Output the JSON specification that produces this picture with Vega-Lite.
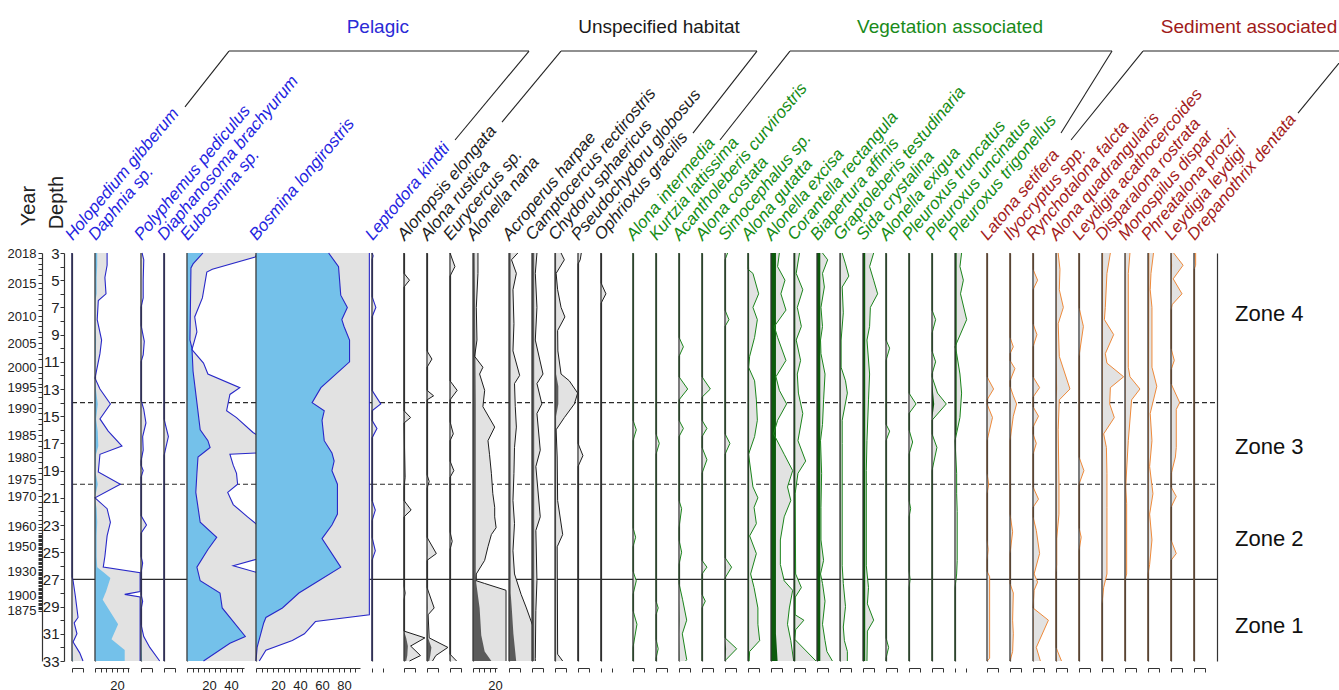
{
"$schema":"https://vega.github.io/schema/vega-lite/v6.json",
"background":"white",
"padding":{"left":7,"top":18,"right":0,"bottom":0},
"spacing":12,
"bounds":"flush",
"resolve":{"scale":{"x":"independent"}},
"config":{
 "view":{"stroke":null},
 "font":"Liberation Sans",
 "legend":{"disable":true},
 "mark":{"invalid":"filter"},
 "area":{"color":"#e2e2e2"},
 "line":{"color":"#1e1e1e","strokeWidth":1},
 "rule":{"color":"#2b2b2b","strokeWidth":1.1},
 "text":{"angle":-50,"align":"left","baseline":"alphabetic","fontStyle":"italic","fontSize":17,"dx":1,"color":"#1e1e1e"},
 "axis":{"grid":false,"domainColor":"#333","tickColor":"#333","labelColor":"#222","labelFont":"Liberation Sans"},
 "axisX":{"offset":7,"tickSize":4,"labelFontSize":13,"labelPadding":7,"domainWidth":1,"labelOverlap":false,"labelFlush":false,"labelBound":false},
 "axisY":{"labels":false,"ticks":false,"domainWidth":1.2}
},
"datasets":{
 "zones":[{"d":14,"k":"dash"},{"d":20,"k":"dash"},{"d":27,"k":"solid"}],
 "zonelab":[{"d":7.5,"z":"Zone 4"},{"d":17.3,"z":"Zone 3"},{"d":24,"z":"Zone 2"},{"d":30.45,"z":"Zone 1"}],
 "groups":[{"g":"P","name":"Pelagic"},{"g":"U","name":"Unspecified habitat"},{"g":"V","name":"Vegetation associated"},{"g":"S","name":"Sediment associated"}],
 "axtitles":[{"name":"Year"},{"name":"Depth"}],
 "taxa":[{"t":"Hol","name":"Holopedium gibberum"},{"t":"Dap","name":"Daphnia sp."},{"t":"Pol","name":"Polyphemus pediculus"},{"t":"Dia","name":"Diaphanosoma brachyurum"},{"t":"Eub","name":"Eubosmina sp."},{"t":"Bos","name":"Bosmina longirostris"},{"t":"Lep","name":"Leptodora kindti"},{"t":"Aen","name":"Alonopsis elongata"},{"t":"Aru","name":"Alona rustica"},{"t":"Eur","name":"Eurycercus sp."},{"t":"Ana","name":"Alonella nana"},{"t":"Aha","name":"Acroperus harpae"},{"t":"Cre","name":"Camptocercus rectirostris"},{"t":"Csp","name":"Chydoru sphaericus"},{"t":"Pgl","name":"Pseudochydoru globosus"},{"t":"Ogr","name":"Ophrioxus gracilis"},{"t":"Ain","name":"Alona intermedia"},{"t":"Kla","name":"Kurtzia lattissima"},{"t":"Acu","name":"Acantholeberis curvirostris"},{"t":"Aco","name":"Alona costata"},{"t":"Sim","name":"Simocephalus sp."},{"t":"Agu","name":"Alona gutatta"},{"t":"Aex","name":"Alonella excisa"},{"t":"Cor","name":"Corantella rectangula"},{"t":"Baf","name":"Biapertura affinis"},{"t":"Gte","name":"Graptoleberis testudinaria"},{"t":"Scr","name":"Sida crystalina"},{"t":"Aeg","name":"Alonella exigua"},{"t":"Ptr","name":"Pleuroxus truncatus"},{"t":"Pun","name":"Pleuroxus uncinatus"},{"t":"Ptg","name":"Pleuroxus trigonellus"},{"t":"Lse","name":"Latona setifera"},{"t":"Ily","name":"Ilyocryptus spp."},{"t":"Rfa","name":"Rynchotalona falcta"},{"t":"Aqu","name":"Alona quadrangularis"},{"t":"Lac","name":"Leydigia acathocercoides"},{"t":"Dro","name":"Disparalona rostrata"},{"t":"Mdi","name":"Monospilus dispar"},{"t":"Ppr","name":"Phreatalona protzi"},{"t":"Lle","name":"Leydigia leydigi"},{"t":"Dde","name":"Drepanothrix dentata"}],
 "Hol":[{"d":3,"v":0,"e":0},{"d":26.8,"v":0,"e":0},{"d":27.1,"v":0,"e":1},{"d":28.2,"v":0,"e":3},{"d":29.8,"v":0.3,"e":5.5},{"d":30.2,"v":0,"e":2},{"d":31,"v":0.3,"e":4.5},{"d":31.6,"v":0,"e":1},{"d":32.4,"v":0.5,"e":7},{"d":33,"v":1,"e":10}],
 "Dap":[{"d":3,"v":2,"e":11},{"d":3.9,"v":2,"e":11},{"d":4.8,"v":1.5,"e":9},{"d":6,"v":1.5,"e":10},{"d":6.5,"v":0.5,"e":3},{"d":7.9,"v":0.3,"e":2},{"d":9.4,"v":1,"e":6},{"d":10.4,"v":0.8,"e":4.5},{"d":12.2,"v":0,"e":0},{"d":13,"v":0.8,"e":4.5},{"d":14.1,"v":2.5,"e":14},{"d":15.2,"v":1,"e":4.5},{"d":16.1,"v":2.5,"e":12},{"d":17.2,"v":3,"e":24.5},{"d":17.8,"v":1,"e":4.5},{"d":19.1,"v":0.5,"e":3},{"d":20,"v":2.5,"e":23},{"d":21,"v":0,"e":0},{"d":21.8,"v":1.5,"e":11},{"d":22.8,"v":2,"e":14},{"d":23.8,"v":1.5,"e":11},{"d":25.3,"v":1.5,"e":9},{"d":26.1,"v":2,"e":7.5},{"d":26.5,"v":8,"e":41},{"d":26.9,"v":14,"e":41},{"d":27.9,"v":10,"e":41},{"d":28.1,"v":9,"e":27},{"d":28.3,"v":8,"e":41},{"d":28.5,"v":7,"e":41},{"d":30.3,"v":21,"e":41},{"d":31.4,"v":15,"e":41},{"d":32.2,"v":27,"e":41},{"d":33,"v":27,"e":41}],
 "Pol":[{"d":3,"v":0,"e":1},{"d":3.5,"v":0,"e":2.5},{"d":5,"v":0,"e":2},{"d":6.3,"v":0,"e":2},{"d":7,"v":0,"e":0},{"d":8.3,"v":0,"e":0},{"d":9.5,"v":0,"e":3},{"d":10.5,"v":0,"e":2},{"d":11,"v":0,"e":0},{"d":13.8,"v":0,"e":0},{"d":14.5,"v":0,"e":2.5},{"d":15.5,"v":0,"e":4.5},{"d":16.5,"v":0,"e":1.5},{"d":17.5,"v":0,"e":2},{"d":18.3,"v":0,"e":0},{"d":18.6,"v":0,"e":0},{"d":19,"v":0,"e":2},{"d":19.5,"v":0,"e":0},{"d":22.3,"v":0,"e":0},{"d":23,"v":0.3,"e":5},{"d":23.6,"v":0,"e":0},{"d":25.3,"v":0,"e":0},{"d":25.8,"v":0,"e":1.5},{"d":26.5,"v":0,"e":0},{"d":28.1,"v":0,"e":0},{"d":28.6,"v":0,"e":1.5},{"d":29.2,"v":0,"e":0},{"d":30.3,"v":0,"e":0},{"d":31.2,"v":0.3,"e":2.5},{"d":32,"v":0.5,"e":8},{"d":33,"v":1,"e":17}],
 "Dia":[{"d":3,"v":0,"e":0},{"d":15.2,"v":0,"e":0},{"d":16.5,"v":0,"e":4},{"d":17.9,"v":0,"e":0},{"d":33,"v":0,"e":0}],
 "Eub":[{"d":3,"v":14.5,"e":64},{"d":3.3,"e":62},{"d":3.8,"v":5.5},{"d":4.1,"v":3.6},{"d":4.2,"e":23},{"d":4.4,"e":18},{"d":6.3,"e":14},{"d":7.7,"e":7},{"d":8.8,"e":9},{"d":9.4,"v":2.7},{"d":10,"v":4.5},{"d":10.1,"e":4.5},{"d":11.1,"e":15},{"d":11.7,"v":5.5},{"d":11.9,"e":19},{"d":12.9,"e":48},{"d":13.4,"e":39},{"d":14,"v":9},{"d":14.6,"e":36},{"d":15.1,"e":45},{"d":16,"v":12},{"d":16.2,"e":60},{"d":16.4,"e":64},{"d":16.8,"v":19},{"d":17.3,"v":21},{"d":17.7,"e":64},{"d":17.8,"e":39},{"d":18,"v":10},{"d":18.6,"e":42},{"d":19.2,"v":9,"e":45},{"d":20,"e":46},{"d":20.6,"v":8,"e":37},{"d":21.5,"e":42},{"d":22.4,"e":55},{"d":22.8,"v":12},{"d":23,"e":64},{"d":23.9,"v":27},{"d":24.8,"v":19},{"d":25.5,"e":64},{"d":26,"e":42},{"d":26.1,"v":9},{"d":26.5,"e":64},{"d":27.1,"v":12},{"d":28,"v":30},{"d":29.1,"v":32},{"d":31.2,"v":53},{"d":31.7,"v":39},{"d":33,"v":15,"e":64}],
 "Bos":[{"d":3,"v":66,"e":103},{"d":4,"v":75},{"d":6.1,"v":77},{"d":7,"v":83},{"d":7.9,"v":78},{"d":8.4,"v":80},{"d":9.4,"v":85},{"d":11,"v":85},{"d":12.9,"v":59},{"d":14,"v":51},{"d":14.6,"v":62},{"d":15.3,"v":60},{"d":16.8,"v":62},{"d":17.7,"v":69},{"d":18.3,"v":71},{"d":19,"v":69},{"d":20,"v":74},{"d":22.2,"v":74},{"d":23,"v":69},{"d":24,"v":60},{"d":26.1,"v":77},{"d":27.1,"v":57},{"d":28,"v":39},{"d":29.1,"v":24},{"d":29.6,"e":103},{"d":29.8,"v":9},{"d":30.1,"e":54},{"d":30.2,"v":7},{"d":31,"e":44},{"d":31.5,"e":33},{"d":32,"v":1},{"d":32.2,"e":9},{"d":33,"v":0,"e":3}],
 "Lep":[{"d":3,"v":0,"e":0},{"d":3.2,"v":0,"e":1},{"d":3.5,"v":0,"e":0},{"d":6.2,"v":0,"e":0},{"d":7,"v":0,"e":3.5},{"d":7.7,"v":0,"e":0},{"d":13.1,"v":0,"e":0},{"d":14.1,"v":0.5,"e":8},{"d":14.6,"v":0,"e":0},{"d":15.3,"v":0,"e":0},{"d":15.9,"v":0.3,"e":4.5},{"d":16.6,"v":0,"e":0},{"d":21.2,"v":0,"e":0},{"d":21.9,"v":0,"e":3},{"d":22.7,"v":0,"e":0},{"d":23.9,"v":0,"e":0},{"d":24.9,"v":0,"e":3},{"d":25.6,"v":0,"e":0},{"d":33,"v":0,"e":0}],
 "Aen":[{"d":3,"v":0,"e":0},{"d":4.5,"v":0,"e":0},{"d":5,"v":0.3,"e":5},{"d":5.5,"v":0,"e":0},{"d":14.6,"v":0,"e":0},{"d":15.1,"v":0.5,"e":6},{"d":15.5,"v":0,"e":0},{"d":19.5,"v":0.3,"e":1},{"d":20.2,"v":0,"e":0},{"d":21.2,"v":0,"e":0},{"d":21.9,"v":0.5,"e":6.5},{"d":22.4,"v":0,"e":0},{"d":27.5,"v":0,"e":0},{"d":28,"v":0,"e":1},{"d":28.5,"v":0,"e":0},{"d":30.8,"v":0,"e":0},{"d":31.3,"v":2,"e":19},{"d":31.9,"v":3.5,"e":6},{"d":32.6,"v":3,"e":15},{"d":33,"v":2,"e":5}],
 "Aru":[{"d":3,"v":0,"e":0},{"d":10.2,"v":0,"e":0},{"d":10.8,"v":0,"e":4.5},{"d":11.4,"v":0,"e":0},{"d":13.1,"v":0,"e":0},{"d":13.5,"v":0.3,"e":6},{"d":13.8,"v":0,"e":0},{"d":19.3,"v":0,"e":0},{"d":19.8,"v":0,"e":2},{"d":20.3,"v":0,"e":0},{"d":23.9,"v":0,"e":0},{"d":25.1,"v":0.5,"e":8.5},{"d":25.6,"v":0,"e":0},{"d":27.6,"v":0,"e":0},{"d":29.1,"v":0.5,"e":6.5},{"d":29.6,"v":0,"e":1},{"d":31.3,"v":1,"e":2},{"d":32,"v":4,"e":19},{"d":32.6,"v":3,"e":8},{"d":33,"v":2,"e":5}],
 "Eur":[{"d":3,"v":0,"e":0},{"d":4,"v":0,"e":4.5},{"d":4.7,"v":0,"e":0},{"d":12.4,"v":0,"e":0},{"d":13.1,"v":0.3,"e":6.5},{"d":13.8,"v":0,"e":0},{"d":15.4,"v":0,"e":0},{"d":16.3,"v":0,"e":3},{"d":16.8,"v":0,"e":0},{"d":18.3,"v":0,"e":0},{"d":19,"v":0,"e":3.5},{"d":19.5,"v":0,"e":0},{"d":23.5,"v":0,"e":0},{"d":24.2,"v":0,"e":2},{"d":24.8,"v":0,"e":0},{"d":32.5,"v":0,"e":0},{"d":33,"v":0.5,"e":6}],
 "Ana":[{"d":3,"v":1.5,"e":4.5},{"d":4.5,"e":4.5},{"d":7,"e":3},{"d":9.4,"e":3.6},{"d":10.6,"e":1.5},{"d":11.4,"e":9},{"d":11.9,"e":6},{"d":13.1,"e":10.6},{"d":14,"v":2.5},{"d":14.3,"e":9},{"d":15.8,"e":19.7},{"d":16.8,"e":13.6},{"d":17.8,"e":15},{"d":19.2,"e":16.7},{"d":20.7,"e":18},{"d":21.7,"e":19.7},{"d":22.4,"e":19.7},{"d":23.2,"e":21},{"d":23.7,"e":16.7},{"d":24.6,"e":13.6},{"d":25.6,"e":10.6},{"d":26.6,"v":2.5,"e":3},{"d":27.1,"e":3},{"d":27.3,"v":3,"e":10.6},{"d":27.8,"e":30},{"d":29.1,"v":6},{"d":31.1,"v":7.5},{"d":32.3,"v":10.6},{"d":33,"v":16.7,"e":30}],
 "Aha":[{"d":3,"v":1.5,"e":8},{"d":3.5,"e":2.3},{"d":4.5,"e":6.7},{"d":5.7,"e":3.6},{"d":8.2,"e":4.5},{"d":10.2,"e":3.6},{"d":12,"e":9.7},{"d":12.6,"e":5},{"d":14.3,"e":5.7},{"d":15.8,"e":6.7},{"d":17.3,"e":5},{"d":19.2,"e":4.5},{"d":21.2,"e":3.6},{"d":22.9,"e":5},{"d":24.9,"e":3.6},{"d":26.6,"e":5},{"d":28,"v":1.5},{"d":28.1,"e":11},{"d":29.1,"v":2.5,"e":15.8},{"d":30.5,"e":22},{"d":31,"v":4},{"d":33,"v":6.5,"e":23}],
 "Cre":[{"d":3,"v":2,"e":4.5},{"d":4.5,"e":3},{"d":7,"e":4.5},{"d":9.4,"e":3},{"d":11.9,"e":10},{"d":12.6,"e":4.5},{"d":14.1,"e":9},{"d":14.8,"e":4.5},{"d":17.5,"e":7.5},{"d":18.7,"e":3.5},{"d":22.4,"e":7.5},{"d":23.4,"e":3.5},{"d":27.1,"e":4.5},{"d":29.3,"e":3.5},{"d":32.8,"e":3},{"d":33,"v":2,"e":3}],
 "Csp":[{"d":3,"v":1,"e":5.5},{"d":3.5,"e":8.5},{"d":4.5,"e":1},{"d":5.7,"e":2.4},{"d":7,"e":5.5},{"d":7.7,"e":9},{"d":8.7,"e":2.4},{"d":10.2,"e":2.6},{"d":11.9,"v":1,"e":5.5},{"d":12.4,"e":13},{"d":12.8,"v":3},{"d":13.3,"e":20.6},{"d":14.1,"v":3,"e":17.6},{"d":15,"v":1},{"d":15.1,"e":8.5},{"d":16,"e":1},{"d":18,"e":2},{"d":21.2,"e":2.4},{"d":23.7,"e":7},{"d":24.6,"e":2},{"d":32.5,"e":2.4},{"d":33,"v":1,"e":7}],
 "Pgl":[{"d":3,"v":0.3,"e":3},{"d":3.5,"v":0,"e":2},{"d":3.8,"v":0,"e":0},{"d":17,"v":0,"e":0},{"d":17.9,"v":0,"e":4.5},{"d":18.7,"v":0,"e":0},{"d":33,"v":0,"e":0}],
 "Ogr":[{"d":3,"v":0,"e":0},{"d":5.2,"v":0,"e":0},{"d":6,"v":0,"e":4.5},{"d":6.7,"v":0,"e":0},{"d":33,"v":0,"e":0}],
 "Ain":[{"d":3,"v":0,"e":0},{"d":15.3,"v":0,"e":0},{"d":16,"v":0,"e":3},{"d":16.8,"v":0,"e":0},{"d":23.2,"v":0,"e":0},{"d":23.9,"v":0,"e":2.4},{"d":24.6,"v":0,"e":0},{"d":26.4,"v":0,"e":0},{"d":27.1,"v":0,"e":3},{"d":28.1,"v":0,"e":0},{"d":29.3,"v":0,"e":0},{"d":30.3,"v":0,"e":3.6},{"d":32,"v":0,"e":0},{"d":33,"v":0,"e":0}],
 "Kla":[{"d":3,"v":0,"e":0},{"d":16.3,"v":0,"e":0},{"d":17,"v":0,"e":3},{"d":17.8,"v":0,"e":0},{"d":28.6,"v":0,"e":0},{"d":29.1,"v":0,"e":2},{"d":29.6,"v":0,"e":0},{"d":31.4,"v":0,"e":0},{"d":32.1,"v":0,"e":2},{"d":32.8,"v":0,"e":0},{"d":33,"v":0,"e":0}],
 "Acu":[{"d":3,"v":0,"e":0},{"d":9.2,"v":0,"e":0},{"d":9.9,"v":0,"e":4},{"d":10.6,"v":0,"e":0},{"d":12.1,"v":0,"e":0},{"d":13,"v":0,"e":7.9},{"d":13.8,"v":0,"e":0},{"d":15.3,"v":0,"e":0},{"d":15.9,"v":0,"e":4},{"d":16.5,"v":0,"e":0},{"d":21.2,"v":0,"e":0},{"d":21.8,"v":0,"e":2.4},{"d":23.2,"v":0,"e":0},{"d":24.1,"v":0,"e":0},{"d":25,"v":0,"e":2.4},{"d":25.9,"v":0,"e":0},{"d":27.3,"v":0,"e":0},{"d":28.5,"v":0,"e":3.3},{"d":30,"v":0.3,"e":7},{"d":31,"v":0,"e":3},{"d":32.9,"v":0.3,"e":7},{"d":33,"v":0,"e":6}],
 "Aco":[{"d":3,"v":0,"e":0},{"d":12.1,"v":0,"e":0},{"d":13,"v":0.3,"e":7.6},{"d":13.6,"v":0,"e":0},{"d":15.3,"v":0,"e":0},{"d":15.9,"v":0,"e":4.5},{"d":16.5,"v":0,"e":0},{"d":17.3,"v":0,"e":0},{"d":18.2,"v":0,"e":4.5},{"d":19.2,"v":0,"e":0},{"d":25.6,"v":0,"e":0},{"d":26.1,"v":0,"e":4.5},{"d":26.6,"v":0,"e":0},{"d":28.1,"v":0,"e":0},{"d":28.6,"v":0,"e":3},{"d":29.1,"v":0,"e":0},{"d":33,"v":0,"e":0}],
 "Sim":[{"d":3,"v":0.3,"e":2.4},{"d":3.5,"v":0,"e":0},{"d":7.2,"v":0,"e":0},{"d":7.9,"v":0,"e":3.6},{"d":8.4,"v":0,"e":0},{"d":16.3,"v":0,"e":0},{"d":17,"v":0,"e":4.5},{"d":17.8,"v":0,"e":0},{"d":25.4,"v":0,"e":0},{"d":26.1,"v":0.5,"e":6},{"d":26.9,"v":0,"e":0},{"d":31.3,"v":0,"e":0},{"d":32.1,"v":1,"e":10.6},{"d":32.9,"v":0.5,"e":1},{"d":33,"v":0,"e":0}],
 "Agu":[{"d":3,"v":0.5,"e":0},{"d":4.2,"v":1,"e":0},{"d":4.5,"v":1,"e":4.5},{"d":6,"v":1,"e":9.7},{"d":7,"v":1,"e":4.5},{"d":7.9,"v":1,"e":8.5},{"d":9.2,"v":1,"e":6},{"d":10.6,"v":1,"e":1.5},{"d":11.4,"v":1,"e":0.5},{"d":12.4,"v":1,"e":6},{"d":13.8,"v":1,"e":7.6},{"d":15.3,"v":1,"e":8.5},{"d":16.5,"v":1,"e":6},{"d":17.8,"v":1,"e":0.5},{"d":20.2,"v":1,"e":4.5},{"d":21,"v":1,"e":9},{"d":21.7,"v":1,"e":5.5},{"d":22.9,"v":1,"e":7.6},{"d":23.8,"v":1,"e":1.5},{"d":25.1,"v":1,"e":7.6},{"d":26.6,"v":1,"e":2.4},{"d":27.6,"v":1,"e":5.5},{"d":29.1,"v":1,"e":9},{"d":30.3,"v":1,"e":9},{"d":31.5,"v":1,"e":10.6},{"d":32.3,"v":1,"e":1.5},{"d":33,"v":1,"e":1}],
 "Aex":[{"d":3,"v":4.5,"e":7.6},{"d":4,"e":6},{"d":5,"e":12.7},{"d":6,"e":9},{"d":7.2,"e":13.6},{"d":8.4,"e":3},{"d":9.2,"e":6},{"d":10.9,"e":13.6},{"d":12.1,"e":4.5},{"d":13.1,"e":7.6},{"d":14.1,"e":14.2},{"d":15.3,"e":6},{"d":16.3,"e":2.4},{"d":17.8,"e":12},{"d":19,"e":19.7},{"d":20.2,"e":15},{"d":21.2,"e":18},{"d":22.4,"e":12},{"d":24.1,"e":8.5},{"d":25.9,"e":8.5},{"d":27.1,"e":12},{"d":27.8,"e":19.7},{"d":29.1,"e":16.7},{"d":30.3,"e":15},{"d":31,"v":4.5},{"d":31.5,"e":18},{"d":33,"v":6,"e":20.6}],
 "Cor":[{"d":3,"v":1.2,"e":5},{"d":4.5,"e":2},{"d":5.7,"e":8},{"d":7,"e":3},{"d":8.4,"e":6.7},{"d":9.4,"e":2},{"d":10.9,"e":6},{"d":11.9,"e":3},{"d":13.3,"e":4},{"d":14.8,"e":8},{"d":16.8,"e":3.6},{"d":18.3,"e":10.6},{"d":19.2,"e":3.6},{"d":20.7,"e":1},{"d":26.6,"e":1.5},{"d":27.6,"e":6.7},{"d":28.3,"e":1.2},{"d":29.6,"e":1},{"d":30,"e":9},{"d":30.7,"e":1.5},{"d":31.4,"e":0.6},{"d":33,"v":1.2,"e":20}],
 "Baf":[{"d":3,"v":3,"e":5},{"d":3.5,"e":9.7},{"d":4.5,"e":5},{"d":5.5,"e":6.7},{"d":7,"e":3.6},{"d":8.4,"e":5},{"d":9.4,"e":3.2},{"d":10.4,"e":3.6},{"d":11.9,"e":7.3},{"d":13.8,"e":6},{"d":15.6,"e":5},{"d":16.8,"e":3.2},{"d":19.2,"e":4.2},{"d":21.7,"e":3.6},{"d":24.1,"e":3.6},{"d":25.6,"e":6},{"d":26.6,"e":3.2},{"d":27.3,"e":5},{"d":28.6,"e":7.3},{"d":30.3,"e":5},{"d":31.5,"e":7.3},{"d":32.3,"e":9},{"d":33,"v":3,"e":14}],
 "Gte":[{"d":3,"v":0.5,"e":2},{"d":3.8,"e":5},{"d":4.7,"e":8},{"d":5.5,"e":2},{"d":7.4,"e":3},{"d":9.4,"e":1},{"d":11.4,"e":1},{"d":12.4,"e":5},{"d":13.3,"e":6.7},{"d":15.3,"e":2},{"d":17,"e":2},{"d":26,"e":2},{"d":27.3,"e":3},{"d":29,"e":5},{"d":30.5,"e":3},{"d":31.5,"e":4},{"d":32.3,"e":6.7},{"d":33,"v":0.5,"e":6.7}],
 "Scr":[{"d":3,"v":2,"e":9.7},{"d":4,"e":6},{"d":5,"e":9.7},{"d":6,"e":13.3},{"d":7,"e":6.7},{"d":8.4,"e":6},{"d":9.4,"e":3.6},{"d":11.9,"e":6},{"d":13.8,"e":5},{"d":16.8,"e":3.6},{"d":19,"e":3},{"d":26,"e":3},{"d":27.6,"e":5},{"d":28.8,"e":4},{"d":30,"e":9.7},{"d":30.8,"e":4},{"d":33,"v":2,"e":3.6}],
 "Aeg":[{"d":3,"v":0,"e":0},{"d":9.4,"v":0,"e":0},{"d":10,"v":0,"e":3.3},{"d":10.9,"v":0,"e":0},{"d":15.6,"v":0,"e":0},{"d":16.1,"v":0,"e":3.3},{"d":16.8,"v":0,"e":0},{"d":31.3,"v":0,"e":0},{"d":32,"v":0,"e":2.4},{"d":32.8,"v":0,"e":0},{"d":33,"v":0,"e":0}],
 "Ptr":[{"d":3,"v":0,"e":0},{"d":13.3,"v":0,"e":0},{"d":14.1,"v":0,"e":6.4},{"d":14.8,"v":0,"e":0},{"d":16,"v":0,"e":0},{"d":16.9,"v":0,"e":3.3},{"d":17.8,"v":0,"e":0},{"d":21.2,"v":0,"e":0},{"d":21.8,"v":0,"e":1.5},{"d":22.4,"v":0,"e":0},{"d":26.4,"v":0,"e":0},{"d":27,"v":0,"e":1},{"d":27.6,"v":0,"e":0},{"d":33,"v":0,"e":0}],
 "Pun":[{"d":3,"v":0,"e":0},{"d":7.2,"v":0,"e":0},{"d":7.9,"v":0,"e":3.3},{"d":8.9,"v":0,"e":0},{"d":10.2,"v":0,"e":0},{"d":11,"v":0,"e":3.3},{"d":11.9,"v":0,"e":0},{"d":12.1,"v":0,"e":0},{"d":13.3,"v":1,"e":5},{"d":14.1,"v":2,"e":13},{"d":15.3,"v":0,"e":0},{"d":16.3,"v":0,"e":0},{"d":17.3,"v":0,"e":4.5},{"d":19,"v":0,"e":0},{"d":33,"v":0,"e":0}],
 "Ptg":[{"d":3,"v":1.5,"e":6},{"d":4,"e":4.5},{"d":5,"e":7.6},{"d":6,"e":5},{"d":7.9,"e":10.6},{"d":9.9,"e":0},{"d":10.4,"e":1.5},{"d":11.9,"e":4.5},{"d":13.3,"e":6},{"d":15.1,"e":4.5},{"d":16,"v":1.5},{"d":16.8,"v":0,"e":0},{"d":19.2,"e":1.5},{"d":20.7,"e":1.5},{"d":22,"e":2},{"d":25.6,"e":2},{"d":26.6,"e":1.5},{"d":27.6,"e":0},{"d":33,"v":0,"e":0}],
 "Lse":[{"d":3,"v":0,"e":0},{"d":12.1,"v":0,"e":0},{"d":13,"v":0.3,"e":6},{"d":13.8,"v":0,"e":0},{"d":14.1,"v":0,"e":0},{"d":15.1,"v":0.3,"e":5},{"d":16.8,"v":0,"e":0},{"d":19.2,"v":0,"e":0},{"d":20,"v":0,"e":1.5},{"d":20.7,"v":0,"e":0},{"d":24.1,"v":0,"e":0},{"d":24.8,"v":0,"e":1},{"d":25.6,"v":0,"e":0},{"d":26.4,"v":0,"e":0},{"d":26.8,"v":0,"e":2.4},{"d":32.8,"v":0,"e":2.4},{"d":33,"v":0,"e":0}],
 "Ily":[{"d":3,"v":0,"e":0},{"d":9.2,"v":0,"e":0},{"d":9.9,"v":0,"e":3},{"d":10.4,"v":0,"e":0},{"d":10.9,"v":0,"e":0},{"d":11.5,"v":0,"e":4.5},{"d":12.4,"v":0,"e":0},{"d":12.8,"v":0,"e":0},{"d":13.5,"v":0,"e":3},{"d":14.1,"v":0.5,"e":6},{"d":15,"v":0,"e":3},{"d":16.8,"v":0,"e":0},{"d":22.2,"v":0,"e":0},{"d":23.5,"v":0,"e":2.4},{"d":25.1,"v":0,"e":0},{"d":27.3,"v":0,"e":0},{"d":28,"v":0,"e":3},{"d":30,"v":0,"e":2.4},{"d":31,"v":0,"e":3},{"d":32.3,"v":0,"e":2.4},{"d":33,"v":0,"e":0}],
 "Rfa":[{"d":3,"v":0,"e":0},{"d":4.2,"v":0,"e":0},{"d":5,"v":0,"e":4.2},{"d":5.7,"v":0,"e":0},{"d":8.2,"v":0,"e":0},{"d":9,"v":0,"e":3.6},{"d":9.9,"v":0,"e":0},{"d":12.1,"v":0,"e":0},{"d":12.9,"v":0,"e":6},{"d":13.6,"v":0,"e":0},{"d":14.3,"v":0,"e":0},{"d":15,"v":0,"e":5},{"d":15.8,"v":0,"e":0},{"d":16.3,"v":0,"e":0},{"d":17,"v":0,"e":3},{"d":17.8,"v":0,"e":0},{"d":20.2,"v":0,"e":0},{"d":21.1,"v":0,"e":5},{"d":21.7,"v":0,"e":0},{"d":22.4,"v":0,"e":0},{"d":23.4,"v":0,"e":3},{"d":25.1,"v":0,"e":6},{"d":26.6,"v":0,"e":1},{"d":27.2,"v":0,"e":4.2},{"d":27.8,"v":0,"e":1},{"d":29.1,"v":0,"e":0},{"d":30,"v":0.5,"e":14},{"d":32,"v":0.3,"e":3},{"d":33,"v":0.5,"e":6.7}],
 "Aqu":[{"d":3,"v":0.5,"e":2},{"d":4.2,"v":0.5,"e":3.6},{"d":5.7,"v":0.5,"e":3},{"d":7,"v":0.5,"e":6.7},{"d":8.2,"v":0.5,"e":2},{"d":10.6,"v":0.5,"e":3},{"d":13,"v":1,"e":12.7},{"d":13.8,"v":0.5,"e":3},{"d":16,"v":0.5,"e":2},{"d":20,"v":0.5,"e":2.7},{"d":22.2,"v":0.5,"e":2.7},{"d":24,"v":0.5,"e":0.6},{"d":25.9,"v":0,"e":0.6},{"d":26.5,"v":0,"e":0},{"d":32,"v":0,"e":0},{"d":33,"v":1,"e":5}],
 "Lac":[{"d":3,"v":0,"e":0},{"d":7,"v":0,"e":0},{"d":8.4,"v":0,"e":4},{"d":10.6,"v":0,"e":0},{"d":18,"v":0,"e":0},{"d":19,"v":0,"e":4.5},{"d":20,"v":0,"e":0},{"d":23.2,"v":0,"e":0},{"d":23.9,"v":0,"e":2},{"d":24.9,"v":0,"e":0},{"d":33,"v":0,"e":0}],
 "Dro":[{"d":3,"v":1,"e":7.6},{"d":4.5,"e":4.5},{"d":7,"e":3},{"d":7.9,"e":2.2},{"d":9,"e":10.6},{"d":10.4,"e":3},{"d":11.1,"e":4.5},{"d":12.1,"e":19.7},{"d":12.9,"e":7.6},{"d":14.1,"e":7},{"d":15.1,"e":11.2},{"d":16.3,"e":1.5},{"d":17.3,"e":4},{"d":19.2,"e":4.5},{"d":21.7,"e":4.5},{"d":24.1,"e":4.5},{"d":26.6,"e":4.5},{"d":27.6,"e":1.5},{"d":28.8,"v":0,"e":0},{"d":33,"v":0,"e":0}],
 "Mdi":[{"d":3,"v":0.5,"e":4.5},{"d":4.5,"e":3},{"d":11.4,"e":3},{"d":12.1,"e":4.5},{"d":13,"e":13.6},{"d":13.8,"e":6},{"d":16.8,"e":3},{"d":20.2,"e":0.6},{"d":21.4,"e":1.5},{"d":26.6,"v":0.3,"e":1.5},{"d":27,"v":0,"e":0},{"d":33,"v":0,"e":0}],
 "Ppr":[{"d":3,"v":1.2,"e":5},{"d":4.5,"e":2.7},{"d":5.7,"e":2},{"d":7,"e":3.6},{"d":11.4,"e":3.6},{"d":12.8,"e":8},{"d":14.8,"e":2},{"d":16.8,"e":3.6},{"d":18.7,"e":1.5},{"d":20.7,"e":4.5},{"d":22.2,"e":1.5},{"d":24.1,"e":3.6},{"d":25.9,"e":1.5},{"d":26.6,"v":0.5,"e":0},{"d":27,"v":0},{"d":33,"v":0,"e":0}],
 "Lle":[{"d":3,"v":0.5,"e":2.4},{"d":3.9,"v":1,"e":11},{"d":4.9,"v":0.5,"e":2},{"d":6,"v":0.5,"e":10},{"d":6.8,"v":0,"e":1},{"d":7.2,"v":0,"e":0},{"d":10,"v":0,"e":0},{"d":10.9,"v":0,"e":3},{"d":11.6,"v":0,"e":0},{"d":12.6,"v":0,"e":0},{"d":14,"v":0.5,"e":7.9},{"d":14.5,"v":0.3,"e":4.8},{"d":17.3,"v":0.3,"e":4.8},{"d":18,"v":0,"e":4},{"d":19.2,"v":0,"e":0.3},{"d":20.2,"v":0,"e":0},{"d":20.9,"v":0,"e":4.8},{"d":21.7,"v":0,"e":0},{"d":24.1,"v":0,"e":0},{"d":25.1,"v":0,"e":4.8},{"d":25.6,"v":0,"e":0},{"d":33,"v":0,"e":0}],
 "Dde":[{"d":3,"v":0.5,"e":1.5},{"d":3.9,"v":0,"e":1.5},{"d":4.2,"v":0,"e":0},{"d":33,"v":0,"e":0}]
},
"hconcat":[
 {"width":1,"height":408,"data":{"name":"zones"},"mark":{"type":"point","opacity":0},"encoding":{"x":{"datum":0,"scale":{"domain":[0,1]},"axis":null},"y":{"field":"d","type":"quantitative","title":null,"scale":{"domain":[3,33],"reverse":true,"nice":false,"zero":false},"axis":{"orient":"left","offset":4,"labels":true,"ticks":true,"domain":true,"tickSize":4,"labelFontSize":13,"labelPadding":2,"labelOverlap":false,"values":[3,5.21,7.64,9.63,11.4,12.87,14.42,16.41,18.03,19.65,20.9,23.12,24.59,26.43,28.2,29.31,3.4,3.8,4.2,4.6,5.6,6,6.4,6.8,7.2,8,8.4,8.8,9.2,10,10.4,10.8,11.8,12.2,12.6,13.2,13.6,14,14.8,15.2,15.6,16,16.8,17.2,17.6,18.4,18.8,19.2,20,20.4,21.3,21.7,22,22.3,22.6,22.9,23.4,23.6,23.7,23.8,23.9,24,24.1,24.2,24.3,24.4,24.5,24.7,24.8,24.9,25,25.1,25.2,25.3,25.4,25.5,25.6,25.7,25.8,25.9,26,26.1,26.2,26.3,26.5,26.6,26.7,26.8,26.9,27,27.1,27.2,27.3,27.4,27.5,27.6,27.7,27.8,27.9,28,28.1,28.3,28.4,28.5,28.6,28.7,28.8,28.9,29,29.1,29.2],"labelExpr":"indexof([3,5.21,7.64,9.63,11.4,12.87,14.42,16.41,18.03,19.65,20.9,23.12,24.59,26.43,28.2,29.31],datum.value) >= 0 ? ['2018','2015','2010','2005','2000','1995','1990','1985','1980','1975','1970','1960','1950','1930','1900','1875'][indexof([3,5.21,7.64,9.63,11.4,12.87,14.42,16.41,18.03,19.65,20.9,23.12,24.59,26.43,28.2,29.31],datum.value)] : ''"}}}},
 {"width":1,"height":408,"data":{"name":"zones"},"mark":{"type":"point","opacity":0},"encoding":{"x":{"datum":0,"scale":{"domain":[0,1]},"axis":null},"y":{"field":"d","type":"quantitative","title":null,"scale":{"domain":[3,33],"reverse":true,"nice":false,"zero":false},"axis":{"orient":"left","offset":-5,"labels":true,"ticks":true,"domain":true,"values":[3,4,5,6,7,8,9,10,11,12,13,14,15,16,17,18,19,20,21,22,23,24,25,26,27,28,29,30,31,32,33],"labelExpr":"datum.value % 2 == 1 ? datum.label : ''","tickSize":4,"labelFontSize":15,"labelPadding":1,"labelOverlap":false}}}},
 {"width":11,"height":408,"data":{"name":"Hol"},"layer":[
   {"data":{"name":"zones"},"mark":{"type":"rule"},"encoding":{"y":{"field":"d","type":"quantitative","title":null,"scale":{"domain":[3,33],"reverse":true,"nice":false,"zero":false}},"x":{"datum":0},"x2":{"datum":21},"strokeDash":{"field":"k","type":"nominal","scale":{"domain":["dash","solid"],"range":[[5,3],[1,0]]}}}},
   {"mark":{"type":"area","orient":"horizontal"},"encoding":{"y":{"field":"d","type":"quantitative","title":null},"x":{"field":"e","type":"quantitative","title":null,"scale":{"domain":[0,10],"nice":false,"zero":false},"axis":{"values":[0,5,10],"labels":false}}}},
   {"mark":{"type":"area","orient":"horizontal","fill":"#74c1ea"},"encoding":{"y":{"field":"d","type":"quantitative","title":null},"x":{"field":"v","type":"quantitative","title":null}}},
   {"mark":{"type":"line","stroke":"#2828c8","strokeWidth":1.1},"encoding":{"y":{"field":"d","type":"quantitative","title":null},"x":{"field":"e","type":"quantitative","title":null},"order":{"field":"d","type":"quantitative"}}},
   {"data":{"name":"taxa"},"transform":[{"filter":"datum.t=='Hol'"}],"mark":{"type":"text","fill":"#2424e0"},"encoding":{"x":{"datum":0},"y":{"datum":2.2},"text":{"field":"name"}}},
   {"data":{"name":"axtitles"},"transform":[{"filter":"datum.name=='Year'"}],"mark":{"type":"text","fontSize":20,"angle":-90,"align":"center","baseline":"middle","fontStyle":"normal","dx":0,"fill":"#222"},"encoding":{"x":{"datum":-39.1},"y":{"datum":-0.45},"text":{"field":"name"}}},
   {"data":{"name":"axtitles"},"transform":[{"filter":"datum.name=='Depth'"}],"mark":{"type":"text","fontSize":20,"angle":-90,"align":"center","baseline":"middle","fontStyle":"normal","dx":0,"fill":"#222"},"encoding":{"x":{"datum":-13.6},"y":{"datum":-0.7},"text":{"field":"name"}}},
   {"data":{"name":"groups"},"transform":[{"filter":"datum.g=='P'"}],"mark":{"type":"text","fontSize":19,"angle":0,"align":"center","baseline":"middle","fontStyle":"normal","dx":0,"fill":"#2a2ad6"},"encoding":{"x":{"datum":278},"y":{"datum":-13.6},"text":{"field":"name"}}},
   {"data":{"name":"groups"},"transform":[{"filter":"datum.g=='P'"}],"mark":{"type":"rule","stroke":"#222"},"encoding":{"x":{"datum":102.7},"y":{"datum":-7.74},"x2":{"datum":142.7},"y2":{"datum":-11.85}}},
   {"data":{"name":"groups"},"transform":[{"filter":"datum.g=='P'"}],"mark":{"type":"rule","stroke":"#222"},"encoding":{"x":{"datum":142.7},"y":{"datum":-11.85},"x2":{"datum":415.5},"y2":{"datum":-11.85}}},
   {"data":{"name":"groups"},"transform":[{"filter":"datum.g=='P'"}],"mark":{"type":"rule","stroke":"#222"},"encoding":{"x":{"datum":415.5},"y":{"datum":-11.85},"x2":{"datum":348.2},"y2":{"datum":-5.31}}},
   {"data":{"name":"zones"},"transform":[{"filter":"datum.k=='solid'"}],"mark":{"type":"rule","stroke":"#333","strokeWidth":1.2},"encoding":{"x":{"datum":0},"y":{"datum":3},"y2":{"datum":33}}}
  ]},
 {"width":34,"height":408,"data":{"name":"Dap"},"layer":[
   {"data":{"name":"zones"},"mark":{"type":"rule"},"encoding":{"y":{"field":"d","type":"quantitative","title":null,"scale":{"domain":[3,33],"reverse":true,"nice":false,"zero":false}},"x":{"datum":0,"axis":{"values":[0,5,10,15,20,25,30],"labelOverlap":false,"labelFlush":false,"labelBound":false,"labelExpr":"datum.value > 0 && datum.value % 20 == 0 ? datum.label : ''"}},"x2":{"datum":41.8},"strokeDash":{"field":"k","type":"nominal","scale":{"domain":["dash","solid"],"range":[[5,3],[1,0]]}}}},
   {"mark":{"type":"area","orient":"horizontal"},"encoding":{"y":{"field":"d","type":"quantitative","title":null},"x":{"field":"e","type":"quantitative","title":null,"scale":{"domain":[0,30.9],"nice":false,"zero":false},"axis":{"values":[0,5,10,15,20,25,30],"labelOverlap":false,"labelFlush":false,"labelBound":false,"labelExpr":"datum.value > 0 && datum.value % 20 == 0 ? datum.label : ''"}}}},
   {"mark":{"type":"area","orient":"horizontal","fill":"#74c1ea"},"encoding":{"y":{"field":"d","type":"quantitative","title":null},"x":{"field":"v","type":"quantitative","title":null,"axis":{"values":[0,5,10,15,20,25,30],"labelOverlap":false,"labelFlush":false,"labelBound":false,"labelExpr":"datum.value > 0 && datum.value % 20 == 0 ? datum.label : ''"}}}},
   {"mark":{"type":"line","stroke":"#2828c8","strokeWidth":1.1},"encoding":{"y":{"field":"d","type":"quantitative","title":null},"x":{"field":"e","type":"quantitative","title":null,"axis":{"values":[0,5,10,15,20,25,30],"labelOverlap":false,"labelFlush":false,"labelBound":false,"labelExpr":"datum.value > 0 && datum.value % 20 == 0 ? datum.label : ''"}},"order":{"field":"d","type":"quantitative"}}},
   {"data":{"name":"taxa"},"transform":[{"filter":"datum.t=='Dap'"}],"mark":{"type":"text","fill":"#2424e0"},"encoding":{"x":{"datum":0,"axis":{"values":[0,5,10,15,20,25,30],"labelOverlap":false,"labelFlush":false,"labelBound":false,"labelExpr":"datum.value > 0 && datum.value % 20 == 0 ? datum.label : ''"}},"y":{"datum":2.2},"text":{"field":"name"}}},
   {"data":{"name":"zones"},"transform":[{"filter":"datum.k=='solid'"}],"mark":{"type":"rule","stroke":"#333","strokeWidth":1.2},"encoding":{"x":{"datum":0,"axis":{"values":[0,5,10,15,20,25,30],"labelOverlap":false,"labelFlush":false,"labelBound":false,"labelExpr":"datum.value > 0 && datum.value % 20 == 0 ? datum.label : ''"}},"y":{"datum":3},"y2":{"datum":33}}}]},
 {"width":11,"height":408,"data":{"name":"Pol"},"layer":[
   {"data":{"name":"zones"},"mark":{"type":"rule"},"encoding":{"y":{"field":"d","type":"quantitative","title":null,"scale":{"domain":[3,33],"reverse":true,"nice":false,"zero":false}},"x":{"datum":0},"x2":{"datum":21},"strokeDash":{"field":"k","type":"nominal","scale":{"domain":["dash","solid"],"range":[[5,3],[1,0]]}}}},
   {"mark":{"type":"area","orient":"horizontal"},"encoding":{"y":{"field":"d","type":"quantitative","title":null},"x":{"field":"e","type":"quantitative","title":null,"scale":{"domain":[0,10],"nice":false,"zero":false},"axis":{"values":[0,5,10],"labels":false}}}},
   {"mark":{"type":"area","orient":"horizontal","fill":"#74c1ea"},"encoding":{"y":{"field":"d","type":"quantitative","title":null},"x":{"field":"v","type":"quantitative","title":null}}},
   {"mark":{"type":"line","stroke":"#2828c8","strokeWidth":1.1},"encoding":{"y":{"field":"d","type":"quantitative","title":null},"x":{"field":"e","type":"quantitative","title":null},"order":{"field":"d","type":"quantitative"}}},
   {"data":{"name":"taxa"},"transform":[{"filter":"datum.t=='Pol'"}],"mark":{"type":"text","fill":"#2424e0"},"encoding":{"x":{"datum":0},"y":{"datum":2.2},"text":{"field":"name"}}},
   {"data":{"name":"zones"},"transform":[{"filter":"datum.k=='solid'"}],"mark":{"type":"rule","stroke":"#333","strokeWidth":1.2},"encoding":{"x":{"datum":0},"y":{"datum":3},"y2":{"datum":33}}}]},
 {"width":11,"height":408,"data":{"name":"Dia"},"layer":[
   {"data":{"name":"zones"},"mark":{"type":"rule"},"encoding":{"y":{"field":"d","type":"quantitative","title":null,"scale":{"domain":[3,33],"reverse":true,"nice":false,"zero":false}},"x":{"datum":0},"x2":{"datum":21},"strokeDash":{"field":"k","type":"nominal","scale":{"domain":["dash","solid"],"range":[[5,3],[1,0]]}}}},
   {"mark":{"type":"area","orient":"horizontal"},"encoding":{"y":{"field":"d","type":"quantitative","title":null},"x":{"field":"e","type":"quantitative","title":null,"scale":{"domain":[0,10],"nice":false,"zero":false},"axis":{"values":[0,5,10],"labels":false}}}},
   {"mark":{"type":"area","orient":"horizontal","fill":"#74c1ea"},"encoding":{"y":{"field":"d","type":"quantitative","title":null},"x":{"field":"v","type":"quantitative","title":null}}},
   {"mark":{"type":"line","stroke":"#2828c8","strokeWidth":1.1},"encoding":{"y":{"field":"d","type":"quantitative","title":null},"x":{"field":"e","type":"quantitative","title":null},"order":{"field":"d","type":"quantitative"}}},
   {"data":{"name":"taxa"},"transform":[{"filter":"datum.t=='Dia'"}],"mark":{"type":"text","fill":"#2424e0"},"encoding":{"x":{"datum":0},"y":{"datum":2.2},"text":{"field":"name"}}},
   {"data":{"name":"zones"},"transform":[{"filter":"datum.k=='solid'"}],"mark":{"type":"rule","stroke":"#333","strokeWidth":1.2},"encoding":{"x":{"datum":0},"y":{"datum":3},"y2":{"datum":33}}}]},
 {"width":57,"height":408,"data":{"name":"Eub"},"layer":[
   {"data":{"name":"zones"},"mark":{"type":"rule"},"encoding":{"y":{"field":"d","type":"quantitative","title":null,"scale":{"domain":[3,33],"reverse":true,"nice":false,"zero":false}},"x":{"datum":0,"axis":{"values":[0,5,10,15,20,25,30,35,40,45,50],"labelOverlap":false,"labelFlush":false,"labelBound":false,"labelExpr":"datum.value > 0 && datum.value % 20 == 0 ? datum.label : ''"}},"x2":{"datum":62.7},"strokeDash":{"field":"k","type":"nominal","scale":{"domain":["dash","solid"],"range":[[5,3],[1,0]]}}}},
   {"mark":{"type":"area","orient":"horizontal"},"encoding":{"y":{"field":"d","type":"quantitative","title":null},"x":{"field":"e","type":"quantitative","title":null,"scale":{"domain":[0,51.8],"nice":false,"zero":false},"axis":{"values":[0,5,10,15,20,25,30,35,40,45,50],"labelOverlap":false,"labelFlush":false,"labelBound":false,"labelExpr":"datum.value > 0 && datum.value % 20 == 0 ? datum.label : ''"}}}},
   {"mark":{"type":"area","orient":"horizontal","fill":"#74c1ea"},"encoding":{"y":{"field":"d","type":"quantitative","title":null},"x":{"field":"v","type":"quantitative","title":null,"axis":{"values":[0,5,10,15,20,25,30,35,40,45,50],"labelOverlap":false,"labelFlush":false,"labelBound":false,"labelExpr":"datum.value > 0 && datum.value % 20 == 0 ? datum.label : ''"}}}},
   {"mark":{"type":"line","stroke":"#2828c8","strokeWidth":1.1},"encoding":{"y":{"field":"d","type":"quantitative","title":null},"x":{"field":"e","type":"quantitative","title":null,"axis":{"values":[0,5,10,15,20,25,30,35,40,45,50],"labelOverlap":false,"labelFlush":false,"labelBound":false,"labelExpr":"datum.value > 0 && datum.value % 20 == 0 ? datum.label : ''"}},"order":{"field":"d","type":"quantitative"}}},
   {"mark":{"type":"line","stroke":"#2828c8","strokeWidth":1.1},"encoding":{"y":{"field":"d","type":"quantitative","title":null},"x":{"field":"v","type":"quantitative","title":null,"axis":{"values":[0,5,10,15,20,25,30,35,40,45,50],"labelOverlap":false,"labelFlush":false,"labelBound":false,"labelExpr":"datum.value > 0 && datum.value % 20 == 0 ? datum.label : ''"}},"order":{"field":"d","type":"quantitative"}}},
   {"data":{"name":"taxa"},"transform":[{"filter":"datum.t=='Eub'"}],"mark":{"type":"text","fill":"#2424e0"},"encoding":{"x":{"datum":0,"axis":{"values":[0,5,10,15,20,25,30,35,40,45,50],"labelOverlap":false,"labelFlush":false,"labelBound":false,"labelExpr":"datum.value > 0 && datum.value % 20 == 0 ? datum.label : ''"}},"y":{"datum":2.2},"text":{"field":"name"}}},
   {"data":{"name":"zones"},"transform":[{"filter":"datum.k=='solid'"}],"mark":{"type":"rule","stroke":"#333","strokeWidth":1.2},"encoding":{"x":{"datum":0,"axis":{"values":[0,5,10,15,20,25,30,35,40,45,50],"labelOverlap":false,"labelFlush":false,"labelBound":false,"labelExpr":"datum.value > 0 && datum.value % 20 == 0 ? datum.label : ''"}},"y":{"datum":3},"y2":{"datum":33}}}]},
 {"width":104,"height":408,"data":{"name":"Bos"},"layer":[
   {"data":{"name":"zones"},"mark":{"type":"rule"},"encoding":{"y":{"field":"d","type":"quantitative","title":null,"scale":{"domain":[3,33],"reverse":true,"nice":false,"zero":false}},"x":{"datum":0,"axis":{"values":[0,5,10,15,20,25,30,35,40,45,50,55,60,65,70,75,80,85,90],"labelOverlap":false,"labelFlush":false,"labelBound":false,"labelExpr":"datum.value > 0 && datum.value % 20 == 0 ? datum.label : ''"}},"x2":{"datum":105.5},"strokeDash":{"field":"k","type":"nominal","scale":{"domain":["dash","solid"],"range":[[5,3],[1,0]]}}}},
   {"mark":{"type":"area","orient":"horizontal"},"encoding":{"y":{"field":"d","type":"quantitative","title":null},"x":{"field":"e","type":"quantitative","title":null,"scale":{"domain":[0,94.5],"nice":false,"zero":false},"axis":{"values":[0,5,10,15,20,25,30,35,40,45,50,55,60,65,70,75,80,85,90],"labelOverlap":false,"labelFlush":false,"labelBound":false,"labelExpr":"datum.value > 0 && datum.value % 20 == 0 ? datum.label : ''"}}}},
   {"mark":{"type":"area","orient":"horizontal","fill":"#74c1ea"},"encoding":{"y":{"field":"d","type":"quantitative","title":null},"x":{"field":"v","type":"quantitative","title":null,"axis":{"values":[0,5,10,15,20,25,30,35,40,45,50,55,60,65,70,75,80,85,90],"labelOverlap":false,"labelFlush":false,"labelBound":false,"labelExpr":"datum.value > 0 && datum.value % 20 == 0 ? datum.label : ''"}}}},
   {"mark":{"type":"line","stroke":"#2828c8","strokeWidth":1.1},"encoding":{"y":{"field":"d","type":"quantitative","title":null},"x":{"field":"e","type":"quantitative","title":null,"axis":{"values":[0,5,10,15,20,25,30,35,40,45,50,55,60,65,70,75,80,85,90],"labelOverlap":false,"labelFlush":false,"labelBound":false,"labelExpr":"datum.value > 0 && datum.value % 20 == 0 ? datum.label : ''"}},"order":{"field":"d","type":"quantitative"}}},
   {"mark":{"type":"line","stroke":"#2828c8","strokeWidth":1.1},"encoding":{"y":{"field":"d","type":"quantitative","title":null},"x":{"field":"v","type":"quantitative","title":null,"axis":{"values":[0,5,10,15,20,25,30,35,40,45,50,55,60,65,70,75,80,85,90],"labelOverlap":false,"labelFlush":false,"labelBound":false,"labelExpr":"datum.value > 0 && datum.value % 20 == 0 ? datum.label : ''"}},"order":{"field":"d","type":"quantitative"}}},
   {"data":{"name":"taxa"},"transform":[{"filter":"datum.t=='Bos'"}],"mark":{"type":"text","fill":"#2424e0"},"encoding":{"x":{"datum":0,"axis":{"values":[0,5,10,15,20,25,30,35,40,45,50,55,60,65,70,75,80,85,90],"labelOverlap":false,"labelFlush":false,"labelBound":false,"labelExpr":"datum.value > 0 && datum.value % 20 == 0 ? datum.label : ''"}},"y":{"datum":2.2},"text":{"field":"name"}}},
   {"data":{"name":"zones"},"transform":[{"filter":"datum.k=='solid'"}],"mark":{"type":"rule","stroke":"#333","strokeWidth":1.2},"encoding":{"x":{"datum":0,"axis":{"values":[0,5,10,15,20,25,30,35,40,45,50,55,60,65,70,75,80,85,90],"labelOverlap":false,"labelFlush":false,"labelBound":false,"labelExpr":"datum.value > 0 && datum.value % 20 == 0 ? datum.label : ''"}},"y":{"datum":3},"y2":{"datum":33}}}]},
 {"width":20,"height":408,"data":{"name":"Lep"},"layer":[
   {"data":{"name":"zones"},"mark":{"type":"rule"},"encoding":{"y":{"field":"d","type":"quantitative","title":null,"scale":{"domain":[3,33],"reverse":true,"nice":false,"zero":false}},"x":{"datum":0},"x2":{"datum":29.2},"strokeDash":{"field":"k","type":"nominal","scale":{"domain":["dash","solid"],"range":[[5,3],[1,0]]}}}},
   {"mark":{"type":"area","orient":"horizontal"},"encoding":{"y":{"field":"d","type":"quantitative","title":null},"x":{"field":"e","type":"quantitative","title":null,"scale":{"domain":[0,18.18],"nice":false,"zero":false},"axis":{"values":[0,5,10],"labels":false,"domain":false}}}},
   {"mark":{"type":"area","orient":"horizontal","fill":"#74c1ea"},"encoding":{"y":{"field":"d","type":"quantitative","title":null},"x":{"field":"v","type":"quantitative","title":null}}},
   {"mark":{"type":"line","stroke":"#2828c8","strokeWidth":1.1},"encoding":{"y":{"field":"d","type":"quantitative","title":null},"x":{"field":"e","type":"quantitative","title":null},"order":{"field":"d","type":"quantitative"}}},
   {"data":{"name":"taxa"},"transform":[{"filter":"datum.t=='Lep'"}],"mark":{"type":"text","fill":"#2424e0"},"encoding":{"x":{"datum":0},"y":{"datum":2.2},"text":{"field":"name"}}},
   {"data":{"name":"zones"},"transform":[{"filter":"datum.k=='solid'"}],"mark":{"type":"rule","stroke":"#333","strokeWidth":1.2},"encoding":{"x":{"datum":0},"y":{"datum":3},"y2":{"datum":33}}}]},
 {"width":11,"height":408,"data":{"name":"Aen"},"layer":[
   {"data":{"name":"zones"},"mark":{"type":"rule"},"encoding":{"y":{"field":"d","type":"quantitative","title":null,"scale":{"domain":[3,33],"reverse":true,"nice":false,"zero":false}},"x":{"datum":0},"x2":{"datum":21},"strokeDash":{"field":"k","type":"nominal","scale":{"domain":["dash","solid"],"range":[[5,3],[1,0]]}}}},
   {"mark":{"type":"area","orient":"horizontal"},"encoding":{"y":{"field":"d","type":"quantitative","title":null},"x":{"field":"e","type":"quantitative","title":null,"scale":{"domain":[0,10],"nice":false,"zero":false},"axis":{"values":[0,5,10],"labels":false}}}},
   {"mark":{"type":"area","orient":"horizontal","fill":"#5b5b5b"},"encoding":{"y":{"field":"d","type":"quantitative","title":null},"x":{"field":"v","type":"quantitative","title":null}}},
   {"mark":{"type":"line"},"encoding":{"y":{"field":"d","type":"quantitative","title":null},"x":{"field":"e","type":"quantitative","title":null},"order":{"field":"d","type":"quantitative"}}},
   {"data":{"name":"taxa"},"transform":[{"filter":"datum.t=='Aen'"}],"mark":{"type":"text","fill":"#1e1e1e"},"encoding":{"x":{"datum":0},"y":{"datum":2.2},"text":{"field":"name"}}},
   {"data":{"name":"groups"},"transform":[{"filter":"datum.g=='U'"}],"mark":{"type":"text","fontSize":19,"angle":0,"align":"center","baseline":"middle","fontStyle":"normal","dx":0,"fill":"#1a1a1a"},"encoding":{"x":{"datum":231.8},"y":{"datum":-13.6},"text":{"field":"name"}}},
   {"data":{"name":"groups"},"transform":[{"filter":"datum.g=='U'"}],"mark":{"type":"rule","stroke":"#222"},"encoding":{"x":{"datum":89.1},"y":{"datum":-6.63},"x2":{"datum":142.7},"y2":{"datum":-11.85}}},
   {"data":{"name":"groups"},"transform":[{"filter":"datum.g=='U'"}],"mark":{"type":"rule","stroke":"#222"},"encoding":{"x":{"datum":142.7},"y":{"datum":-11.85},"x2":{"datum":320.9},"y2":{"datum":-11.85}}},
   {"data":{"name":"groups"},"transform":[{"filter":"datum.g=='U'"}],"mark":{"type":"rule","stroke":"#222"},"encoding":{"x":{"datum":320.9},"y":{"datum":-11.85},"x2":{"datum":262.7},"y2":{"datum":-5.82}}},
   {"data":{"name":"zones"},"transform":[{"filter":"datum.k=='solid'"}],"mark":{"type":"rule","stroke":"#333","strokeWidth":1.2},"encoding":{"x":{"datum":0},"y":{"datum":3},"y2":{"datum":33}}}]},
 {"width":11,"height":408,"data":{"name":"Aru"},"layer":[
   {"data":{"name":"zones"},"mark":{"type":"rule"},"encoding":{"y":{"field":"d","type":"quantitative","title":null,"scale":{"domain":[3,33],"reverse":true,"nice":false,"zero":false}},"x":{"datum":0},"x2":{"datum":21},"strokeDash":{"field":"k","type":"nominal","scale":{"domain":["dash","solid"],"range":[[5,3],[1,0]]}}}},
   {"mark":{"type":"area","orient":"horizontal"},"encoding":{"y":{"field":"d","type":"quantitative","title":null},"x":{"field":"e","type":"quantitative","title":null,"scale":{"domain":[0,10],"nice":false,"zero":false},"axis":{"values":[0,5,10],"labels":false}}}},
   {"mark":{"type":"area","orient":"horizontal","fill":"#5b5b5b"},"encoding":{"y":{"field":"d","type":"quantitative","title":null},"x":{"field":"v","type":"quantitative","title":null}}},
   {"mark":{"type":"line"},"encoding":{"y":{"field":"d","type":"quantitative","title":null},"x":{"field":"e","type":"quantitative","title":null},"order":{"field":"d","type":"quantitative"}}},
   {"data":{"name":"taxa"},"transform":[{"filter":"datum.t=='Aru'"}],"mark":{"type":"text","fill":"#1e1e1e"},"encoding":{"x":{"datum":0},"y":{"datum":2.2},"text":{"field":"name"}}},
   {"data":{"name":"zones"},"transform":[{"filter":"datum.k=='solid'"}],"mark":{"type":"rule","stroke":"#333","strokeWidth":1.2},"encoding":{"x":{"datum":0},"y":{"datum":3},"y2":{"datum":33}}}]},
 {"width":11,"height":408,"data":{"name":"Eur"},"layer":[
   {"data":{"name":"zones"},"mark":{"type":"rule"},"encoding":{"y":{"field":"d","type":"quantitative","title":null,"scale":{"domain":[3,33],"reverse":true,"nice":false,"zero":false}},"x":{"datum":0},"x2":{"datum":21},"strokeDash":{"field":"k","type":"nominal","scale":{"domain":["dash","solid"],"range":[[5,3],[1,0]]}}}},
   {"mark":{"type":"area","orient":"horizontal"},"encoding":{"y":{"field":"d","type":"quantitative","title":null},"x":{"field":"e","type":"quantitative","title":null,"scale":{"domain":[0,10],"nice":false,"zero":false},"axis":{"values":[0,5,10],"labels":false}}}},
   {"mark":{"type":"area","orient":"horizontal","fill":"#5b5b5b"},"encoding":{"y":{"field":"d","type":"quantitative","title":null},"x":{"field":"v","type":"quantitative","title":null}}},
   {"mark":{"type":"line"},"encoding":{"y":{"field":"d","type":"quantitative","title":null},"x":{"field":"e","type":"quantitative","title":null},"order":{"field":"d","type":"quantitative"}}},
   {"data":{"name":"taxa"},"transform":[{"filter":"datum.t=='Eur'"}],"mark":{"type":"text","fill":"#1e1e1e"},"encoding":{"x":{"datum":0},"y":{"datum":2.2},"text":{"field":"name"}}},
   {"data":{"name":"zones"},"transform":[{"filter":"datum.k=='solid'"}],"mark":{"type":"rule","stroke":"#333","strokeWidth":1.2},"encoding":{"x":{"datum":0},"y":{"datum":3},"y2":{"datum":33}}}]},
 {"width":24,"height":408,"data":{"name":"Ana"},"layer":[
   {"data":{"name":"zones"},"mark":{"type":"rule"},"encoding":{"y":{"field":"d","type":"quantitative","title":null,"scale":{"domain":[3,33],"reverse":true,"nice":false,"zero":false}},"x":{"datum":0,"axis":{"values":[0,5,10,15,20],"labelOverlap":false,"labelFlush":false,"labelBound":false,"labelExpr":"datum.value > 0 && datum.value % 20 == 0 ? datum.label : ''"}},"x2":{"datum":32.7},"strokeDash":{"field":"k","type":"nominal","scale":{"domain":["dash","solid"],"range":[[5,3],[1,0]]}}}},
   {"mark":{"type":"area","orient":"horizontal"},"encoding":{"y":{"field":"d","type":"quantitative","title":null},"x":{"field":"e","type":"quantitative","title":null,"scale":{"domain":[0,21.8],"nice":false,"zero":false},"axis":{"values":[0,5,10,15,20],"labelOverlap":false,"labelFlush":false,"labelBound":false,"labelExpr":"datum.value > 0 && datum.value % 20 == 0 ? datum.label : ''"}}}},
   {"mark":{"type":"area","orient":"horizontal","fill":"#5b5b5b"},"encoding":{"y":{"field":"d","type":"quantitative","title":null},"x":{"field":"v","type":"quantitative","title":null,"axis":{"values":[0,5,10,15,20],"labelOverlap":false,"labelFlush":false,"labelBound":false,"labelExpr":"datum.value > 0 && datum.value % 20 == 0 ? datum.label : ''"}}}},
   {"mark":{"type":"line"},"encoding":{"y":{"field":"d","type":"quantitative","title":null},"x":{"field":"e","type":"quantitative","title":null,"axis":{"values":[0,5,10,15,20],"labelOverlap":false,"labelFlush":false,"labelBound":false,"labelExpr":"datum.value > 0 && datum.value % 20 == 0 ? datum.label : ''"}},"order":{"field":"d","type":"quantitative"}}},
   {"data":{"name":"taxa"},"transform":[{"filter":"datum.t=='Ana'"}],"mark":{"type":"text","fill":"#1e1e1e"},"encoding":{"x":{"datum":0,"axis":{"values":[0,5,10,15,20],"labelOverlap":false,"labelFlush":false,"labelBound":false,"labelExpr":"datum.value > 0 && datum.value % 20 == 0 ? datum.label : ''"}},"y":{"datum":2.2},"text":{"field":"name"}}},
   {"data":{"name":"zones"},"transform":[{"filter":"datum.k=='solid'"}],"mark":{"type":"rule","stroke":"#333","strokeWidth":1.2},"encoding":{"x":{"datum":0,"axis":{"values":[0,5,10,15,20],"labelOverlap":false,"labelFlush":false,"labelBound":false,"labelExpr":"datum.value > 0 && datum.value % 20 == 0 ? datum.label : ''"}},"y":{"datum":3},"y2":{"datum":33}}}]},
 {"width":11,"height":408,"data":{"name":"Aha"},"layer":[
   {"data":{"name":"zones"},"mark":{"type":"rule"},"encoding":{"y":{"field":"d","type":"quantitative","title":null,"scale":{"domain":[3,33],"reverse":true,"nice":false,"zero":false}},"x":{"datum":0},"x2":{"datum":21},"strokeDash":{"field":"k","type":"nominal","scale":{"domain":["dash","solid"],"range":[[5,3],[1,0]]}}}},
   {"mark":{"type":"area","orient":"horizontal"},"encoding":{"y":{"field":"d","type":"quantitative","title":null},"x":{"field":"e","type":"quantitative","title":null,"scale":{"domain":[0,10],"nice":false,"zero":false},"axis":{"values":[0,5,10],"labels":false}}}},
   {"mark":{"type":"area","orient":"horizontal","fill":"#5b5b5b"},"encoding":{"y":{"field":"d","type":"quantitative","title":null},"x":{"field":"v","type":"quantitative","title":null}}},
   {"mark":{"type":"line"},"encoding":{"y":{"field":"d","type":"quantitative","title":null},"x":{"field":"e","type":"quantitative","title":null},"order":{"field":"d","type":"quantitative"}}},
   {"data":{"name":"taxa"},"transform":[{"filter":"datum.t=='Aha'"}],"mark":{"type":"text","fill":"#1e1e1e"},"encoding":{"x":{"datum":0},"y":{"datum":2.2},"text":{"field":"name"}}},
   {"data":{"name":"zones"},"transform":[{"filter":"datum.k=='solid'"}],"mark":{"type":"rule","stroke":"#333","strokeWidth":1.2},"encoding":{"x":{"datum":0},"y":{"datum":3},"y2":{"datum":33}}}]},
 {"width":11,"height":408,"data":{"name":"Cre"},"layer":[
   {"data":{"name":"zones"},"mark":{"type":"rule"},"encoding":{"y":{"field":"d","type":"quantitative","title":null,"scale":{"domain":[3,33],"reverse":true,"nice":false,"zero":false}},"x":{"datum":0},"x2":{"datum":21},"strokeDash":{"field":"k","type":"nominal","scale":{"domain":["dash","solid"],"range":[[5,3],[1,0]]}}}},
   {"mark":{"type":"area","orient":"horizontal"},"encoding":{"y":{"field":"d","type":"quantitative","title":null},"x":{"field":"e","type":"quantitative","title":null,"scale":{"domain":[0,10],"nice":false,"zero":false},"axis":{"values":[0,5,10],"labels":false}}}},
   {"mark":{"type":"area","orient":"horizontal","fill":"#5b5b5b"},"encoding":{"y":{"field":"d","type":"quantitative","title":null},"x":{"field":"v","type":"quantitative","title":null}}},
   {"mark":{"type":"line"},"encoding":{"y":{"field":"d","type":"quantitative","title":null},"x":{"field":"e","type":"quantitative","title":null},"order":{"field":"d","type":"quantitative"}}},
   {"data":{"name":"taxa"},"transform":[{"filter":"datum.t=='Cre'"}],"mark":{"type":"text","fill":"#1e1e1e"},"encoding":{"x":{"datum":0},"y":{"datum":2.2},"text":{"field":"name"}}},
   {"data":{"name":"zones"},"transform":[{"filter":"datum.k=='solid'"}],"mark":{"type":"rule","stroke":"#333","strokeWidth":1.2},"encoding":{"x":{"datum":0},"y":{"datum":3},"y2":{"datum":33}}}]},
 {"width":11,"height":408,"data":{"name":"Csp"},"layer":[
   {"data":{"name":"zones"},"mark":{"type":"rule"},"encoding":{"y":{"field":"d","type":"quantitative","title":null,"scale":{"domain":[3,33],"reverse":true,"nice":false,"zero":false}},"x":{"datum":0},"x2":{"datum":21},"strokeDash":{"field":"k","type":"nominal","scale":{"domain":["dash","solid"],"range":[[5,3],[1,0]]}}}},
   {"mark":{"type":"area","orient":"horizontal"},"encoding":{"y":{"field":"d","type":"quantitative","title":null},"x":{"field":"e","type":"quantitative","title":null,"scale":{"domain":[0,10],"nice":false,"zero":false},"axis":{"values":[0,5,10],"labels":false}}}},
   {"mark":{"type":"area","orient":"horizontal","fill":"#5b5b5b"},"encoding":{"y":{"field":"d","type":"quantitative","title":null},"x":{"field":"v","type":"quantitative","title":null}}},
   {"mark":{"type":"line"},"encoding":{"y":{"field":"d","type":"quantitative","title":null},"x":{"field":"e","type":"quantitative","title":null},"order":{"field":"d","type":"quantitative"}}},
   {"data":{"name":"taxa"},"transform":[{"filter":"datum.t=='Csp'"}],"mark":{"type":"text","fill":"#1e1e1e"},"encoding":{"x":{"datum":0},"y":{"datum":2.2},"text":{"field":"name"}}},
   {"data":{"name":"zones"},"transform":[{"filter":"datum.k=='solid'"}],"mark":{"type":"rule","stroke":"#333","strokeWidth":1.2},"encoding":{"x":{"datum":0},"y":{"datum":3},"y2":{"datum":33}}}]},
 {"width":11,"height":408,"data":{"name":"Pgl"},"layer":[
   {"data":{"name":"zones"},"mark":{"type":"rule"},"encoding":{"y":{"field":"d","type":"quantitative","title":null,"scale":{"domain":[3,33],"reverse":true,"nice":false,"zero":false}},"x":{"datum":0},"x2":{"datum":21},"strokeDash":{"field":"k","type":"nominal","scale":{"domain":["dash","solid"],"range":[[5,3],[1,0]]}}}},
   {"mark":{"type":"area","orient":"horizontal"},"encoding":{"y":{"field":"d","type":"quantitative","title":null},"x":{"field":"e","type":"quantitative","title":null,"scale":{"domain":[0,10],"nice":false,"zero":false},"axis":{"values":[0,5,10],"labels":false}}}},
   {"mark":{"type":"area","orient":"horizontal","fill":"#5b5b5b"},"encoding":{"y":{"field":"d","type":"quantitative","title":null},"x":{"field":"v","type":"quantitative","title":null}}},
   {"mark":{"type":"line"},"encoding":{"y":{"field":"d","type":"quantitative","title":null},"x":{"field":"e","type":"quantitative","title":null},"order":{"field":"d","type":"quantitative"}}},
   {"data":{"name":"taxa"},"transform":[{"filter":"datum.t=='Pgl'"}],"mark":{"type":"text","fill":"#1e1e1e"},"encoding":{"x":{"datum":0},"y":{"datum":2.2},"text":{"field":"name"}}},
   {"data":{"name":"zones"},"transform":[{"filter":"datum.k=='solid'"}],"mark":{"type":"rule","stroke":"#333","strokeWidth":1.2},"encoding":{"x":{"datum":0},"y":{"datum":3},"y2":{"datum":33}}}]},
 {"width":20,"height":408,"data":{"name":"Ogr"},"layer":[
   {"data":{"name":"zones"},"mark":{"type":"rule"},"encoding":{"y":{"field":"d","type":"quantitative","title":null,"scale":{"domain":[3,33],"reverse":true,"nice":false,"zero":false}},"x":{"datum":0},"x2":{"datum":29.2},"strokeDash":{"field":"k","type":"nominal","scale":{"domain":["dash","solid"],"range":[[5,3],[1,0]]}}}},
   {"mark":{"type":"area","orient":"horizontal"},"encoding":{"y":{"field":"d","type":"quantitative","title":null},"x":{"field":"e","type":"quantitative","title":null,"scale":{"domain":[0,18.18],"nice":false,"zero":false},"axis":{"values":[0,5,10],"labels":false,"domain":false}}}},
   {"mark":{"type":"area","orient":"horizontal","fill":"#5b5b5b"},"encoding":{"y":{"field":"d","type":"quantitative","title":null},"x":{"field":"v","type":"quantitative","title":null}}},
   {"mark":{"type":"line"},"encoding":{"y":{"field":"d","type":"quantitative","title":null},"x":{"field":"e","type":"quantitative","title":null},"order":{"field":"d","type":"quantitative"}}},
   {"data":{"name":"taxa"},"transform":[{"filter":"datum.t=='Ogr'"}],"mark":{"type":"text","fill":"#1e1e1e"},"encoding":{"x":{"datum":0},"y":{"datum":2.2},"text":{"field":"name"}}},
   {"data":{"name":"zones"},"transform":[{"filter":"datum.k=='solid'"}],"mark":{"type":"rule","stroke":"#333","strokeWidth":1.2},"encoding":{"x":{"datum":0},"y":{"datum":3},"y2":{"datum":33}}}]},
 {"width":11,"height":408,"data":{"name":"Ain"},"layer":[
   {"data":{"name":"zones"},"mark":{"type":"rule"},"encoding":{"y":{"field":"d","type":"quantitative","title":null,"scale":{"domain":[3,33],"reverse":true,"nice":false,"zero":false}},"x":{"datum":0},"x2":{"datum":21},"strokeDash":{"field":"k","type":"nominal","scale":{"domain":["dash","solid"],"range":[[5,3],[1,0]]}}}},
   {"mark":{"type":"area","orient":"horizontal"},"encoding":{"y":{"field":"d","type":"quantitative","title":null},"x":{"field":"e","type":"quantitative","title":null,"scale":{"domain":[0,10],"nice":false,"zero":false},"axis":{"values":[0,5,10],"labels":false}}}},
   {"mark":{"type":"area","orient":"horizontal","fill":"#0c5a0c"},"encoding":{"y":{"field":"d","type":"quantitative","title":null},"x":{"field":"v","type":"quantitative","title":null}}},
   {"mark":{"type":"line","stroke":"#1b851b"},"encoding":{"y":{"field":"d","type":"quantitative","title":null},"x":{"field":"e","type":"quantitative","title":null},"order":{"field":"d","type":"quantitative"}}},
   {"data":{"name":"taxa"},"transform":[{"filter":"datum.t=='Ain'"}],"mark":{"type":"text","fill":"#168c16"},"encoding":{"x":{"datum":0},"y":{"datum":2.2},"text":{"field":"name"}}},
   {"data":{"name":"groups"},"transform":[{"filter":"datum.g=='V'"}],"mark":{"type":"text","fontSize":19,"angle":0,"align":"center","baseline":"middle","fontStyle":"normal","dx":0,"fill":"#1a8a1a"},"encoding":{"x":{"datum":288.2},"y":{"datum":-13.6},"text":{"field":"name"}}},
   {"data":{"name":"groups"},"transform":[{"filter":"datum.g=='V'"}],"mark":{"type":"rule","stroke":"#222"},"encoding":{"x":{"datum":79.1},"y":{"datum":-5.31},"x2":{"datum":142.7},"y2":{"datum":-11.85}}},
   {"data":{"name":"groups"},"transform":[{"filter":"datum.g=='V'"}],"mark":{"type":"rule","stroke":"#222"},"encoding":{"x":{"datum":142.7},"y":{"datum":-11.85},"x2":{"datum":435.5},"y2":{"datum":-11.85}}},
   {"data":{"name":"groups"},"transform":[{"filter":"datum.g=='V'"}],"mark":{"type":"rule","stroke":"#222"},"encoding":{"x":{"datum":435.5},"y":{"datum":-11.85},"x2":{"datum":389.1},"y2":{"datum":-5.82}}},
   {"data":{"name":"zones"},"transform":[{"filter":"datum.k=='solid'"}],"mark":{"type":"rule","stroke":"#333","strokeWidth":1.2},"encoding":{"x":{"datum":0},"y":{"datum":3},"y2":{"datum":33}}}]},
 {"width":11,"height":408,"data":{"name":"Kla"},"layer":[
   {"data":{"name":"zones"},"mark":{"type":"rule"},"encoding":{"y":{"field":"d","type":"quantitative","title":null,"scale":{"domain":[3,33],"reverse":true,"nice":false,"zero":false}},"x":{"datum":0},"x2":{"datum":21},"strokeDash":{"field":"k","type":"nominal","scale":{"domain":["dash","solid"],"range":[[5,3],[1,0]]}}}},
   {"mark":{"type":"area","orient":"horizontal"},"encoding":{"y":{"field":"d","type":"quantitative","title":null},"x":{"field":"e","type":"quantitative","title":null,"scale":{"domain":[0,10],"nice":false,"zero":false},"axis":{"values":[0,5,10],"labels":false}}}},
   {"mark":{"type":"area","orient":"horizontal","fill":"#0c5a0c"},"encoding":{"y":{"field":"d","type":"quantitative","title":null},"x":{"field":"v","type":"quantitative","title":null}}},
   {"mark":{"type":"line","stroke":"#1b851b"},"encoding":{"y":{"field":"d","type":"quantitative","title":null},"x":{"field":"e","type":"quantitative","title":null},"order":{"field":"d","type":"quantitative"}}},
   {"data":{"name":"taxa"},"transform":[{"filter":"datum.t=='Kla'"}],"mark":{"type":"text","fill":"#168c16"},"encoding":{"x":{"datum":0},"y":{"datum":2.2},"text":{"field":"name"}}},
   {"data":{"name":"zones"},"transform":[{"filter":"datum.k=='solid'"}],"mark":{"type":"rule","stroke":"#333","strokeWidth":1.2},"encoding":{"x":{"datum":0},"y":{"datum":3},"y2":{"datum":33}}}]},
 {"width":11,"height":408,"data":{"name":"Acu"},"layer":[
   {"data":{"name":"zones"},"mark":{"type":"rule"},"encoding":{"y":{"field":"d","type":"quantitative","title":null,"scale":{"domain":[3,33],"reverse":true,"nice":false,"zero":false}},"x":{"datum":0},"x2":{"datum":21},"strokeDash":{"field":"k","type":"nominal","scale":{"domain":["dash","solid"],"range":[[5,3],[1,0]]}}}},
   {"mark":{"type":"area","orient":"horizontal"},"encoding":{"y":{"field":"d","type":"quantitative","title":null},"x":{"field":"e","type":"quantitative","title":null,"scale":{"domain":[0,10],"nice":false,"zero":false},"axis":{"values":[0,5,10],"labels":false}}}},
   {"mark":{"type":"area","orient":"horizontal","fill":"#0c5a0c"},"encoding":{"y":{"field":"d","type":"quantitative","title":null},"x":{"field":"v","type":"quantitative","title":null}}},
   {"mark":{"type":"line","stroke":"#1b851b"},"encoding":{"y":{"field":"d","type":"quantitative","title":null},"x":{"field":"e","type":"quantitative","title":null},"order":{"field":"d","type":"quantitative"}}},
   {"data":{"name":"taxa"},"transform":[{"filter":"datum.t=='Acu'"}],"mark":{"type":"text","fill":"#168c16"},"encoding":{"x":{"datum":0},"y":{"datum":2.2},"text":{"field":"name"}}},
   {"data":{"name":"zones"},"transform":[{"filter":"datum.k=='solid'"}],"mark":{"type":"rule","stroke":"#333","strokeWidth":1.2},"encoding":{"x":{"datum":0},"y":{"datum":3},"y2":{"datum":33}}}]},
 {"width":11,"height":408,"data":{"name":"Aco"},"layer":[
   {"data":{"name":"zones"},"mark":{"type":"rule"},"encoding":{"y":{"field":"d","type":"quantitative","title":null,"scale":{"domain":[3,33],"reverse":true,"nice":false,"zero":false}},"x":{"datum":0},"x2":{"datum":21},"strokeDash":{"field":"k","type":"nominal","scale":{"domain":["dash","solid"],"range":[[5,3],[1,0]]}}}},
   {"mark":{"type":"area","orient":"horizontal"},"encoding":{"y":{"field":"d","type":"quantitative","title":null},"x":{"field":"e","type":"quantitative","title":null,"scale":{"domain":[0,10],"nice":false,"zero":false},"axis":{"values":[0,5,10],"labels":false}}}},
   {"mark":{"type":"area","orient":"horizontal","fill":"#0c5a0c"},"encoding":{"y":{"field":"d","type":"quantitative","title":null},"x":{"field":"v","type":"quantitative","title":null}}},
   {"mark":{"type":"line","stroke":"#1b851b"},"encoding":{"y":{"field":"d","type":"quantitative","title":null},"x":{"field":"e","type":"quantitative","title":null},"order":{"field":"d","type":"quantitative"}}},
   {"data":{"name":"taxa"},"transform":[{"filter":"datum.t=='Aco'"}],"mark":{"type":"text","fill":"#168c16"},"encoding":{"x":{"datum":0},"y":{"datum":2.2},"text":{"field":"name"}}},
   {"data":{"name":"zones"},"transform":[{"filter":"datum.k=='solid'"}],"mark":{"type":"rule","stroke":"#333","strokeWidth":1.2},"encoding":{"x":{"datum":0},"y":{"datum":3},"y2":{"datum":33}}}]},
 {"width":11,"height":408,"data":{"name":"Sim"},"layer":[
   {"data":{"name":"zones"},"mark":{"type":"rule"},"encoding":{"y":{"field":"d","type":"quantitative","title":null,"scale":{"domain":[3,33],"reverse":true,"nice":false,"zero":false}},"x":{"datum":0},"x2":{"datum":21},"strokeDash":{"field":"k","type":"nominal","scale":{"domain":["dash","solid"],"range":[[5,3],[1,0]]}}}},
   {"mark":{"type":"area","orient":"horizontal"},"encoding":{"y":{"field":"d","type":"quantitative","title":null},"x":{"field":"e","type":"quantitative","title":null,"scale":{"domain":[0,10],"nice":false,"zero":false},"axis":{"values":[0,5,10],"labels":false}}}},
   {"mark":{"type":"area","orient":"horizontal","fill":"#0c5a0c"},"encoding":{"y":{"field":"d","type":"quantitative","title":null},"x":{"field":"v","type":"quantitative","title":null}}},
   {"mark":{"type":"line","stroke":"#1b851b"},"encoding":{"y":{"field":"d","type":"quantitative","title":null},"x":{"field":"e","type":"quantitative","title":null},"order":{"field":"d","type":"quantitative"}}},
   {"data":{"name":"taxa"},"transform":[{"filter":"datum.t=='Sim'"}],"mark":{"type":"text","fill":"#168c16"},"encoding":{"x":{"datum":0},"y":{"datum":2.2},"text":{"field":"name"}}},
   {"data":{"name":"zones"},"transform":[{"filter":"datum.k=='solid'"}],"mark":{"type":"rule","stroke":"#333","strokeWidth":1.2},"encoding":{"x":{"datum":0},"y":{"datum":3},"y2":{"datum":33}}}]},
 {"width":11,"height":408,"data":{"name":"Agu"},"layer":[
   {"data":{"name":"zones"},"mark":{"type":"rule"},"encoding":{"y":{"field":"d","type":"quantitative","title":null,"scale":{"domain":[3,33],"reverse":true,"nice":false,"zero":false}},"x":{"datum":0},"x2":{"datum":21},"strokeDash":{"field":"k","type":"nominal","scale":{"domain":["dash","solid"],"range":[[5,3],[1,0]]}}}},
   {"mark":{"type":"area","orient":"horizontal"},"encoding":{"y":{"field":"d","type":"quantitative","title":null},"x":{"field":"e","type":"quantitative","title":null,"scale":{"domain":[0,10],"nice":false,"zero":false},"axis":{"values":[0,5,10],"labels":false}}}},
   {"mark":{"type":"area","orient":"horizontal","fill":"#0c5a0c"},"encoding":{"y":{"field":"d","type":"quantitative","title":null},"x":{"field":"v","type":"quantitative","title":null}}},
   {"mark":{"type":"line","stroke":"#1b851b"},"encoding":{"y":{"field":"d","type":"quantitative","title":null},"x":{"field":"e","type":"quantitative","title":null},"order":{"field":"d","type":"quantitative"}}},
   {"data":{"name":"taxa"},"transform":[{"filter":"datum.t=='Agu'"}],"mark":{"type":"text","fill":"#168c16"},"encoding":{"x":{"datum":0},"y":{"datum":2.2},"text":{"field":"name"}}},
   {"data":{"name":"zones"},"transform":[{"filter":"datum.k=='solid'"}],"mark":{"type":"rule","stroke":"#333","strokeWidth":1.2},"encoding":{"x":{"datum":0},"y":{"datum":3},"y2":{"datum":33}}}]},
 {"width":11,"height":408,"data":{"name":"Aex"},"layer":[
   {"data":{"name":"zones"},"mark":{"type":"rule"},"encoding":{"y":{"field":"d","type":"quantitative","title":null,"scale":{"domain":[3,33],"reverse":true,"nice":false,"zero":false}},"x":{"datum":0},"x2":{"datum":21},"strokeDash":{"field":"k","type":"nominal","scale":{"domain":["dash","solid"],"range":[[5,3],[1,0]]}}}},
   {"mark":{"type":"area","orient":"horizontal"},"encoding":{"y":{"field":"d","type":"quantitative","title":null},"x":{"field":"e","type":"quantitative","title":null,"scale":{"domain":[0,10],"nice":false,"zero":false},"axis":{"values":[0,5,10],"labels":false}}}},
   {"mark":{"type":"area","orient":"horizontal","fill":"#0c5a0c"},"encoding":{"y":{"field":"d","type":"quantitative","title":null},"x":{"field":"v","type":"quantitative","title":null}}},
   {"mark":{"type":"line","stroke":"#1b851b"},"encoding":{"y":{"field":"d","type":"quantitative","title":null},"x":{"field":"e","type":"quantitative","title":null},"order":{"field":"d","type":"quantitative"}}},
   {"data":{"name":"taxa"},"transform":[{"filter":"datum.t=='Aex'"}],"mark":{"type":"text","fill":"#168c16"},"encoding":{"x":{"datum":0},"y":{"datum":2.2},"text":{"field":"name"}}},
   {"data":{"name":"zones"},"transform":[{"filter":"datum.k=='solid'"}],"mark":{"type":"rule","stroke":"#333","strokeWidth":1.2},"encoding":{"x":{"datum":0},"y":{"datum":3},"y2":{"datum":33}}}]},
 {"width":11,"height":408,"data":{"name":"Cor"},"layer":[
   {"data":{"name":"zones"},"mark":{"type":"rule"},"encoding":{"y":{"field":"d","type":"quantitative","title":null,"scale":{"domain":[3,33],"reverse":true,"nice":false,"zero":false}},"x":{"datum":0},"x2":{"datum":21},"strokeDash":{"field":"k","type":"nominal","scale":{"domain":["dash","solid"],"range":[[5,3],[1,0]]}}}},
   {"mark":{"type":"area","orient":"horizontal"},"encoding":{"y":{"field":"d","type":"quantitative","title":null},"x":{"field":"e","type":"quantitative","title":null,"scale":{"domain":[0,10],"nice":false,"zero":false},"axis":{"values":[0,5,10],"labels":false}}}},
   {"mark":{"type":"area","orient":"horizontal","fill":"#0c5a0c"},"encoding":{"y":{"field":"d","type":"quantitative","title":null},"x":{"field":"v","type":"quantitative","title":null}}},
   {"mark":{"type":"line","stroke":"#1b851b"},"encoding":{"y":{"field":"d","type":"quantitative","title":null},"x":{"field":"e","type":"quantitative","title":null},"order":{"field":"d","type":"quantitative"}}},
   {"data":{"name":"taxa"},"transform":[{"filter":"datum.t=='Cor'"}],"mark":{"type":"text","fill":"#168c16"},"encoding":{"x":{"datum":0},"y":{"datum":2.2},"text":{"field":"name"}}},
   {"data":{"name":"zones"},"transform":[{"filter":"datum.k=='solid'"}],"mark":{"type":"rule","stroke":"#333","strokeWidth":1.2},"encoding":{"x":{"datum":0},"y":{"datum":3},"y2":{"datum":33}}}]},
 {"width":11,"height":408,"data":{"name":"Baf"},"layer":[
   {"data":{"name":"zones"},"mark":{"type":"rule"},"encoding":{"y":{"field":"d","type":"quantitative","title":null,"scale":{"domain":[3,33],"reverse":true,"nice":false,"zero":false}},"x":{"datum":0},"x2":{"datum":21},"strokeDash":{"field":"k","type":"nominal","scale":{"domain":["dash","solid"],"range":[[5,3],[1,0]]}}}},
   {"mark":{"type":"area","orient":"horizontal"},"encoding":{"y":{"field":"d","type":"quantitative","title":null},"x":{"field":"e","type":"quantitative","title":null,"scale":{"domain":[0,10],"nice":false,"zero":false},"axis":{"values":[0,5,10],"labels":false}}}},
   {"mark":{"type":"area","orient":"horizontal","fill":"#0c5a0c"},"encoding":{"y":{"field":"d","type":"quantitative","title":null},"x":{"field":"v","type":"quantitative","title":null}}},
   {"mark":{"type":"line","stroke":"#1b851b"},"encoding":{"y":{"field":"d","type":"quantitative","title":null},"x":{"field":"e","type":"quantitative","title":null},"order":{"field":"d","type":"quantitative"}}},
   {"data":{"name":"taxa"},"transform":[{"filter":"datum.t=='Baf'"}],"mark":{"type":"text","fill":"#168c16"},"encoding":{"x":{"datum":0},"y":{"datum":2.2},"text":{"field":"name"}}},
   {"data":{"name":"zones"},"transform":[{"filter":"datum.k=='solid'"}],"mark":{"type":"rule","stroke":"#333","strokeWidth":1.2},"encoding":{"x":{"datum":0},"y":{"datum":3},"y2":{"datum":33}}}]},
 {"width":11,"height":408,"data":{"name":"Gte"},"layer":[
   {"data":{"name":"zones"},"mark":{"type":"rule"},"encoding":{"y":{"field":"d","type":"quantitative","title":null,"scale":{"domain":[3,33],"reverse":true,"nice":false,"zero":false}},"x":{"datum":0},"x2":{"datum":21},"strokeDash":{"field":"k","type":"nominal","scale":{"domain":["dash","solid"],"range":[[5,3],[1,0]]}}}},
   {"mark":{"type":"area","orient":"horizontal"},"encoding":{"y":{"field":"d","type":"quantitative","title":null},"x":{"field":"e","type":"quantitative","title":null,"scale":{"domain":[0,10],"nice":false,"zero":false},"axis":{"values":[0,5,10],"labels":false}}}},
   {"mark":{"type":"area","orient":"horizontal","fill":"#0c5a0c"},"encoding":{"y":{"field":"d","type":"quantitative","title":null},"x":{"field":"v","type":"quantitative","title":null}}},
   {"mark":{"type":"line","stroke":"#1b851b"},"encoding":{"y":{"field":"d","type":"quantitative","title":null},"x":{"field":"e","type":"quantitative","title":null},"order":{"field":"d","type":"quantitative"}}},
   {"data":{"name":"taxa"},"transform":[{"filter":"datum.t=='Gte'"}],"mark":{"type":"text","fill":"#168c16"},"encoding":{"x":{"datum":0},"y":{"datum":2.2},"text":{"field":"name"}}},
   {"data":{"name":"zones"},"transform":[{"filter":"datum.k=='solid'"}],"mark":{"type":"rule","stroke":"#333","strokeWidth":1.2},"encoding":{"x":{"datum":0},"y":{"datum":3},"y2":{"datum":33}}}]},
 {"width":11,"height":408,"data":{"name":"Scr"},"layer":[
   {"data":{"name":"zones"},"mark":{"type":"rule"},"encoding":{"y":{"field":"d","type":"quantitative","title":null,"scale":{"domain":[3,33],"reverse":true,"nice":false,"zero":false}},"x":{"datum":0},"x2":{"datum":21},"strokeDash":{"field":"k","type":"nominal","scale":{"domain":["dash","solid"],"range":[[5,3],[1,0]]}}}},
   {"mark":{"type":"area","orient":"horizontal"},"encoding":{"y":{"field":"d","type":"quantitative","title":null},"x":{"field":"e","type":"quantitative","title":null,"scale":{"domain":[0,10],"nice":false,"zero":false},"axis":{"values":[0,5,10],"labels":false}}}},
   {"mark":{"type":"area","orient":"horizontal","fill":"#0c5a0c"},"encoding":{"y":{"field":"d","type":"quantitative","title":null},"x":{"field":"v","type":"quantitative","title":null}}},
   {"mark":{"type":"line","stroke":"#1b851b"},"encoding":{"y":{"field":"d","type":"quantitative","title":null},"x":{"field":"e","type":"quantitative","title":null},"order":{"field":"d","type":"quantitative"}}},
   {"data":{"name":"taxa"},"transform":[{"filter":"datum.t=='Scr'"}],"mark":{"type":"text","fill":"#168c16"},"encoding":{"x":{"datum":0},"y":{"datum":2.2},"text":{"field":"name"}}},
   {"data":{"name":"zones"},"transform":[{"filter":"datum.k=='solid'"}],"mark":{"type":"rule","stroke":"#333","strokeWidth":1.2},"encoding":{"x":{"datum":0},"y":{"datum":3},"y2":{"datum":33}}}]},
 {"width":11,"height":408,"data":{"name":"Aeg"},"layer":[
   {"data":{"name":"zones"},"mark":{"type":"rule"},"encoding":{"y":{"field":"d","type":"quantitative","title":null,"scale":{"domain":[3,33],"reverse":true,"nice":false,"zero":false}},"x":{"datum":0},"x2":{"datum":21},"strokeDash":{"field":"k","type":"nominal","scale":{"domain":["dash","solid"],"range":[[5,3],[1,0]]}}}},
   {"mark":{"type":"area","orient":"horizontal"},"encoding":{"y":{"field":"d","type":"quantitative","title":null},"x":{"field":"e","type":"quantitative","title":null,"scale":{"domain":[0,10],"nice":false,"zero":false},"axis":{"values":[0,5,10],"labels":false}}}},
   {"mark":{"type":"area","orient":"horizontal","fill":"#0c5a0c"},"encoding":{"y":{"field":"d","type":"quantitative","title":null},"x":{"field":"v","type":"quantitative","title":null}}},
   {"mark":{"type":"line","stroke":"#1b851b"},"encoding":{"y":{"field":"d","type":"quantitative","title":null},"x":{"field":"e","type":"quantitative","title":null},"order":{"field":"d","type":"quantitative"}}},
   {"data":{"name":"taxa"},"transform":[{"filter":"datum.t=='Aeg'"}],"mark":{"type":"text","fill":"#168c16"},"encoding":{"x":{"datum":0},"y":{"datum":2.2},"text":{"field":"name"}}},
   {"data":{"name":"zones"},"transform":[{"filter":"datum.k=='solid'"}],"mark":{"type":"rule","stroke":"#333","strokeWidth":1.2},"encoding":{"x":{"datum":0},"y":{"datum":3},"y2":{"datum":33}}}]},
 {"width":11,"height":408,"data":{"name":"Ptr"},"layer":[
   {"data":{"name":"zones"},"mark":{"type":"rule"},"encoding":{"y":{"field":"d","type":"quantitative","title":null,"scale":{"domain":[3,33],"reverse":true,"nice":false,"zero":false}},"x":{"datum":0},"x2":{"datum":21},"strokeDash":{"field":"k","type":"nominal","scale":{"domain":["dash","solid"],"range":[[5,3],[1,0]]}}}},
   {"mark":{"type":"area","orient":"horizontal"},"encoding":{"y":{"field":"d","type":"quantitative","title":null},"x":{"field":"e","type":"quantitative","title":null,"scale":{"domain":[0,10],"nice":false,"zero":false},"axis":{"values":[0,5,10],"labels":false}}}},
   {"mark":{"type":"area","orient":"horizontal","fill":"#0c5a0c"},"encoding":{"y":{"field":"d","type":"quantitative","title":null},"x":{"field":"v","type":"quantitative","title":null}}},
   {"mark":{"type":"line","stroke":"#1b851b"},"encoding":{"y":{"field":"d","type":"quantitative","title":null},"x":{"field":"e","type":"quantitative","title":null},"order":{"field":"d","type":"quantitative"}}},
   {"data":{"name":"taxa"},"transform":[{"filter":"datum.t=='Ptr'"}],"mark":{"type":"text","fill":"#168c16"},"encoding":{"x":{"datum":0},"y":{"datum":2.2},"text":{"field":"name"}}},
   {"data":{"name":"zones"},"transform":[{"filter":"datum.k=='solid'"}],"mark":{"type":"rule","stroke":"#333","strokeWidth":1.2},"encoding":{"x":{"datum":0},"y":{"datum":3},"y2":{"datum":33}}}]},
 {"width":11,"height":408,"data":{"name":"Pun"},"layer":[
   {"data":{"name":"zones"},"mark":{"type":"rule"},"encoding":{"y":{"field":"d","type":"quantitative","title":null,"scale":{"domain":[3,33],"reverse":true,"nice":false,"zero":false}},"x":{"datum":0},"x2":{"datum":21},"strokeDash":{"field":"k","type":"nominal","scale":{"domain":["dash","solid"],"range":[[5,3],[1,0]]}}}},
   {"mark":{"type":"area","orient":"horizontal"},"encoding":{"y":{"field":"d","type":"quantitative","title":null},"x":{"field":"e","type":"quantitative","title":null,"scale":{"domain":[0,10],"nice":false,"zero":false},"axis":{"values":[0,5,10],"labels":false}}}},
   {"mark":{"type":"area","orient":"horizontal","fill":"#0c5a0c"},"encoding":{"y":{"field":"d","type":"quantitative","title":null},"x":{"field":"v","type":"quantitative","title":null}}},
   {"mark":{"type":"line","stroke":"#1b851b"},"encoding":{"y":{"field":"d","type":"quantitative","title":null},"x":{"field":"e","type":"quantitative","title":null},"order":{"field":"d","type":"quantitative"}}},
   {"data":{"name":"taxa"},"transform":[{"filter":"datum.t=='Pun'"}],"mark":{"type":"text","fill":"#168c16"},"encoding":{"x":{"datum":0},"y":{"datum":2.2},"text":{"field":"name"}}},
   {"data":{"name":"zones"},"transform":[{"filter":"datum.k=='solid'"}],"mark":{"type":"rule","stroke":"#333","strokeWidth":1.2},"encoding":{"x":{"datum":0},"y":{"datum":3},"y2":{"datum":33}}}]},
 {"width":20,"height":408,"data":{"name":"Ptg"},"layer":[
   {"data":{"name":"zones"},"mark":{"type":"rule"},"encoding":{"y":{"field":"d","type":"quantitative","title":null,"scale":{"domain":[3,33],"reverse":true,"nice":false,"zero":false}},"x":{"datum":0},"x2":{"datum":29.2},"strokeDash":{"field":"k","type":"nominal","scale":{"domain":["dash","solid"],"range":[[5,3],[1,0]]}}}},
   {"mark":{"type":"area","orient":"horizontal"},"encoding":{"y":{"field":"d","type":"quantitative","title":null},"x":{"field":"e","type":"quantitative","title":null,"scale":{"domain":[0,18.18],"nice":false,"zero":false},"axis":{"values":[0,5,10],"labels":false,"domain":false}}}},
   {"mark":{"type":"area","orient":"horizontal","fill":"#0c5a0c"},"encoding":{"y":{"field":"d","type":"quantitative","title":null},"x":{"field":"v","type":"quantitative","title":null}}},
   {"mark":{"type":"line","stroke":"#1b851b"},"encoding":{"y":{"field":"d","type":"quantitative","title":null},"x":{"field":"e","type":"quantitative","title":null},"order":{"field":"d","type":"quantitative"}}},
   {"data":{"name":"taxa"},"transform":[{"filter":"datum.t=='Ptg'"}],"mark":{"type":"text","fill":"#168c16"},"encoding":{"x":{"datum":0},"y":{"datum":2.2},"text":{"field":"name"}}},
   {"data":{"name":"zones"},"transform":[{"filter":"datum.k=='solid'"}],"mark":{"type":"rule","stroke":"#333","strokeWidth":1.2},"encoding":{"x":{"datum":0},"y":{"datum":3},"y2":{"datum":33}}}]},
 {"width":11,"height":408,"data":{"name":"Lse"},"layer":[
   {"data":{"name":"zones"},"mark":{"type":"rule"},"encoding":{"y":{"field":"d","type":"quantitative","title":null,"scale":{"domain":[3,33],"reverse":true,"nice":false,"zero":false}},"x":{"datum":0},"x2":{"datum":21},"strokeDash":{"field":"k","type":"nominal","scale":{"domain":["dash","solid"],"range":[[5,3],[1,0]]}}}},
   {"mark":{"type":"area","orient":"horizontal"},"encoding":{"y":{"field":"d","type":"quantitative","title":null},"x":{"field":"e","type":"quantitative","title":null,"scale":{"domain":[0,10],"nice":false,"zero":false},"axis":{"values":[0,5,10],"labels":false}}}},
   {"mark":{"type":"area","orient":"horizontal","fill":"#e98536"},"encoding":{"y":{"field":"d","type":"quantitative","title":null},"x":{"field":"v","type":"quantitative","title":null}}},
   {"mark":{"type":"line","stroke":"#ef8a3a"},"encoding":{"y":{"field":"d","type":"quantitative","title":null},"x":{"field":"e","type":"quantitative","title":null},"order":{"field":"d","type":"quantitative"}}},
   {"data":{"name":"taxa"},"transform":[{"filter":"datum.t=='Lse'"}],"mark":{"type":"text","fill":"#a31c1c"},"encoding":{"x":{"datum":0},"y":{"datum":2.2},"text":{"field":"name"}}},
   {"data":{"name":"groups"},"transform":[{"filter":"datum.g=='S'"}],"mark":{"type":"text","fontSize":19,"angle":0,"align":"center","baseline":"middle","fontStyle":"normal","dx":0,"fill":"#a01a1a"},"encoding":{"x":{"datum":238.2},"y":{"datum":-13.6},"text":{"field":"name"}}},
   {"data":{"name":"groups"},"transform":[{"filter":"datum.g=='S'"}],"mark":{"type":"rule","stroke":"#222"},"encoding":{"x":{"datum":76.4},"y":{"datum":-5.31},"x2":{"datum":141.8},"y2":{"datum":-11.85}}},
   {"data":{"name":"groups"},"transform":[{"filter":"datum.g=='S'"}],"mark":{"type":"rule","stroke":"#222"},"encoding":{"x":{"datum":141.8},"y":{"datum":-11.85},"x2":{"datum":329.1},"y2":{"datum":-11.85}}},
   {"data":{"name":"groups"},"transform":[{"filter":"datum.g=='S'"}],"mark":{"type":"rule","stroke":"#222"},"encoding":{"x":{"datum":329.1},"y":{"datum":-11.85},"x2":{"datum":282.7},"y2":{"datum":-7.29}}},
   {"data":{"name":"zones"},"transform":[{"filter":"datum.k=='solid'"}],"mark":{"type":"rule","stroke":"#333","strokeWidth":1.2},"encoding":{"x":{"datum":0},"y":{"datum":3},"y2":{"datum":33}}}]},
 {"width":11,"height":408,"data":{"name":"Ily"},"layer":[
   {"data":{"name":"zones"},"mark":{"type":"rule"},"encoding":{"y":{"field":"d","type":"quantitative","title":null,"scale":{"domain":[3,33],"reverse":true,"nice":false,"zero":false}},"x":{"datum":0},"x2":{"datum":21},"strokeDash":{"field":"k","type":"nominal","scale":{"domain":["dash","solid"],"range":[[5,3],[1,0]]}}}},
   {"mark":{"type":"area","orient":"horizontal"},"encoding":{"y":{"field":"d","type":"quantitative","title":null},"x":{"field":"e","type":"quantitative","title":null,"scale":{"domain":[0,10],"nice":false,"zero":false},"axis":{"values":[0,5,10],"labels":false}}}},
   {"mark":{"type":"area","orient":"horizontal","fill":"#e98536"},"encoding":{"y":{"field":"d","type":"quantitative","title":null},"x":{"field":"v","type":"quantitative","title":null}}},
   {"mark":{"type":"line","stroke":"#ef8a3a"},"encoding":{"y":{"field":"d","type":"quantitative","title":null},"x":{"field":"e","type":"quantitative","title":null},"order":{"field":"d","type":"quantitative"}}},
   {"data":{"name":"taxa"},"transform":[{"filter":"datum.t=='Ily'"}],"mark":{"type":"text","fill":"#a31c1c"},"encoding":{"x":{"datum":0},"y":{"datum":2.2},"text":{"field":"name"}}},
   {"data":{"name":"zones"},"transform":[{"filter":"datum.k=='solid'"}],"mark":{"type":"rule","stroke":"#333","strokeWidth":1.2},"encoding":{"x":{"datum":0},"y":{"datum":3},"y2":{"datum":33}}}]},
 {"width":11,"height":408,"data":{"name":"Rfa"},"layer":[
   {"data":{"name":"zones"},"mark":{"type":"rule"},"encoding":{"y":{"field":"d","type":"quantitative","title":null,"scale":{"domain":[3,33],"reverse":true,"nice":false,"zero":false}},"x":{"datum":0},"x2":{"datum":21},"strokeDash":{"field":"k","type":"nominal","scale":{"domain":["dash","solid"],"range":[[5,3],[1,0]]}}}},
   {"mark":{"type":"area","orient":"horizontal"},"encoding":{"y":{"field":"d","type":"quantitative","title":null},"x":{"field":"e","type":"quantitative","title":null,"scale":{"domain":[0,10],"nice":false,"zero":false},"axis":{"values":[0,5,10],"labels":false}}}},
   {"mark":{"type":"area","orient":"horizontal","fill":"#e98536"},"encoding":{"y":{"field":"d","type":"quantitative","title":null},"x":{"field":"v","type":"quantitative","title":null}}},
   {"mark":{"type":"line","stroke":"#ef8a3a"},"encoding":{"y":{"field":"d","type":"quantitative","title":null},"x":{"field":"e","type":"quantitative","title":null},"order":{"field":"d","type":"quantitative"}}},
   {"data":{"name":"taxa"},"transform":[{"filter":"datum.t=='Rfa'"}],"mark":{"type":"text","fill":"#a31c1c"},"encoding":{"x":{"datum":0},"y":{"datum":2.2},"text":{"field":"name"}}},
   {"data":{"name":"zones"},"transform":[{"filter":"datum.k=='solid'"}],"mark":{"type":"rule","stroke":"#333","strokeWidth":1.2},"encoding":{"x":{"datum":0},"y":{"datum":3},"y2":{"datum":33}}}]},
 {"width":11,"height":408,"data":{"name":"Aqu"},"layer":[
   {"data":{"name":"zones"},"mark":{"type":"rule"},"encoding":{"y":{"field":"d","type":"quantitative","title":null,"scale":{"domain":[3,33],"reverse":true,"nice":false,"zero":false}},"x":{"datum":0},"x2":{"datum":21},"strokeDash":{"field":"k","type":"nominal","scale":{"domain":["dash","solid"],"range":[[5,3],[1,0]]}}}},
   {"mark":{"type":"area","orient":"horizontal"},"encoding":{"y":{"field":"d","type":"quantitative","title":null},"x":{"field":"e","type":"quantitative","title":null,"scale":{"domain":[0,10],"nice":false,"zero":false},"axis":{"values":[0,5,10],"labels":false}}}},
   {"mark":{"type":"area","orient":"horizontal","fill":"#e98536"},"encoding":{"y":{"field":"d","type":"quantitative","title":null},"x":{"field":"v","type":"quantitative","title":null}}},
   {"mark":{"type":"line","stroke":"#ef8a3a"},"encoding":{"y":{"field":"d","type":"quantitative","title":null},"x":{"field":"e","type":"quantitative","title":null},"order":{"field":"d","type":"quantitative"}}},
   {"data":{"name":"taxa"},"transform":[{"filter":"datum.t=='Aqu'"}],"mark":{"type":"text","fill":"#a31c1c"},"encoding":{"x":{"datum":0},"y":{"datum":2.2},"text":{"field":"name"}}},
   {"data":{"name":"zones"},"transform":[{"filter":"datum.k=='solid'"}],"mark":{"type":"rule","stroke":"#333","strokeWidth":1.2},"encoding":{"x":{"datum":0},"y":{"datum":3},"y2":{"datum":33}}}]},
 {"width":11,"height":408,"data":{"name":"Lac"},"layer":[
   {"data":{"name":"zones"},"mark":{"type":"rule"},"encoding":{"y":{"field":"d","type":"quantitative","title":null,"scale":{"domain":[3,33],"reverse":true,"nice":false,"zero":false}},"x":{"datum":0},"x2":{"datum":21},"strokeDash":{"field":"k","type":"nominal","scale":{"domain":["dash","solid"],"range":[[5,3],[1,0]]}}}},
   {"mark":{"type":"area","orient":"horizontal"},"encoding":{"y":{"field":"d","type":"quantitative","title":null},"x":{"field":"e","type":"quantitative","title":null,"scale":{"domain":[0,10],"nice":false,"zero":false},"axis":{"values":[0,5,10],"labels":false}}}},
   {"mark":{"type":"area","orient":"horizontal","fill":"#e98536"},"encoding":{"y":{"field":"d","type":"quantitative","title":null},"x":{"field":"v","type":"quantitative","title":null}}},
   {"mark":{"type":"line","stroke":"#ef8a3a"},"encoding":{"y":{"field":"d","type":"quantitative","title":null},"x":{"field":"e","type":"quantitative","title":null},"order":{"field":"d","type":"quantitative"}}},
   {"data":{"name":"taxa"},"transform":[{"filter":"datum.t=='Lac'"}],"mark":{"type":"text","fill":"#a31c1c"},"encoding":{"x":{"datum":0},"y":{"datum":2.2},"text":{"field":"name"}}},
   {"data":{"name":"zones"},"transform":[{"filter":"datum.k=='solid'"}],"mark":{"type":"rule","stroke":"#333","strokeWidth":1.2},"encoding":{"x":{"datum":0},"y":{"datum":3},"y2":{"datum":33}}}]},
 {"width":11,"height":408,"data":{"name":"Dro"},"layer":[
   {"data":{"name":"zones"},"mark":{"type":"rule"},"encoding":{"y":{"field":"d","type":"quantitative","title":null,"scale":{"domain":[3,33],"reverse":true,"nice":false,"zero":false}},"x":{"datum":0},"x2":{"datum":21},"strokeDash":{"field":"k","type":"nominal","scale":{"domain":["dash","solid"],"range":[[5,3],[1,0]]}}}},
   {"mark":{"type":"area","orient":"horizontal"},"encoding":{"y":{"field":"d","type":"quantitative","title":null},"x":{"field":"e","type":"quantitative","title":null,"scale":{"domain":[0,10],"nice":false,"zero":false},"axis":{"values":[0,5,10],"labels":false}}}},
   {"mark":{"type":"area","orient":"horizontal","fill":"#e98536"},"encoding":{"y":{"field":"d","type":"quantitative","title":null},"x":{"field":"v","type":"quantitative","title":null}}},
   {"mark":{"type":"line","stroke":"#ef8a3a"},"encoding":{"y":{"field":"d","type":"quantitative","title":null},"x":{"field":"e","type":"quantitative","title":null},"order":{"field":"d","type":"quantitative"}}},
   {"data":{"name":"taxa"},"transform":[{"filter":"datum.t=='Dro'"}],"mark":{"type":"text","fill":"#a31c1c"},"encoding":{"x":{"datum":0},"y":{"datum":2.2},"text":{"field":"name"}}},
   {"data":{"name":"zones"},"transform":[{"filter":"datum.k=='solid'"}],"mark":{"type":"rule","stroke":"#333","strokeWidth":1.2},"encoding":{"x":{"datum":0},"y":{"datum":3},"y2":{"datum":33}}}]},
 {"width":11,"height":408,"data":{"name":"Mdi"},"layer":[
   {"data":{"name":"zones"},"mark":{"type":"rule"},"encoding":{"y":{"field":"d","type":"quantitative","title":null,"scale":{"domain":[3,33],"reverse":true,"nice":false,"zero":false}},"x":{"datum":0},"x2":{"datum":21},"strokeDash":{"field":"k","type":"nominal","scale":{"domain":["dash","solid"],"range":[[5,3],[1,0]]}}}},
   {"mark":{"type":"area","orient":"horizontal"},"encoding":{"y":{"field":"d","type":"quantitative","title":null},"x":{"field":"e","type":"quantitative","title":null,"scale":{"domain":[0,10],"nice":false,"zero":false},"axis":{"values":[0,5,10],"labels":false}}}},
   {"mark":{"type":"area","orient":"horizontal","fill":"#e98536"},"encoding":{"y":{"field":"d","type":"quantitative","title":null},"x":{"field":"v","type":"quantitative","title":null}}},
   {"mark":{"type":"line","stroke":"#ef8a3a"},"encoding":{"y":{"field":"d","type":"quantitative","title":null},"x":{"field":"e","type":"quantitative","title":null},"order":{"field":"d","type":"quantitative"}}},
   {"data":{"name":"taxa"},"transform":[{"filter":"datum.t=='Mdi'"}],"mark":{"type":"text","fill":"#a31c1c"},"encoding":{"x":{"datum":0},"y":{"datum":2.2},"text":{"field":"name"}}},
   {"data":{"name":"zones"},"transform":[{"filter":"datum.k=='solid'"}],"mark":{"type":"rule","stroke":"#333","strokeWidth":1.2},"encoding":{"x":{"datum":0},"y":{"datum":3},"y2":{"datum":33}}}]},
 {"width":11,"height":408,"data":{"name":"Ppr"},"layer":[
   {"data":{"name":"zones"},"mark":{"type":"rule"},"encoding":{"y":{"field":"d","type":"quantitative","title":null,"scale":{"domain":[3,33],"reverse":true,"nice":false,"zero":false}},"x":{"datum":0},"x2":{"datum":21},"strokeDash":{"field":"k","type":"nominal","scale":{"domain":["dash","solid"],"range":[[5,3],[1,0]]}}}},
   {"mark":{"type":"area","orient":"horizontal"},"encoding":{"y":{"field":"d","type":"quantitative","title":null},"x":{"field":"e","type":"quantitative","title":null,"scale":{"domain":[0,10],"nice":false,"zero":false},"axis":{"values":[0,5,10],"labels":false}}}},
   {"mark":{"type":"area","orient":"horizontal","fill":"#e98536"},"encoding":{"y":{"field":"d","type":"quantitative","title":null},"x":{"field":"v","type":"quantitative","title":null}}},
   {"mark":{"type":"line","stroke":"#ef8a3a"},"encoding":{"y":{"field":"d","type":"quantitative","title":null},"x":{"field":"e","type":"quantitative","title":null},"order":{"field":"d","type":"quantitative"}}},
   {"data":{"name":"taxa"},"transform":[{"filter":"datum.t=='Ppr'"}],"mark":{"type":"text","fill":"#a31c1c"},"encoding":{"x":{"datum":0},"y":{"datum":2.2},"text":{"field":"name"}}},
   {"data":{"name":"zones"},"transform":[{"filter":"datum.k=='solid'"}],"mark":{"type":"rule","stroke":"#333","strokeWidth":1.2},"encoding":{"x":{"datum":0},"y":{"datum":3},"y2":{"datum":33}}}]},
 {"width":11,"height":408,"data":{"name":"Lle"},"layer":[
   {"data":{"name":"zones"},"mark":{"type":"rule"},"encoding":{"y":{"field":"d","type":"quantitative","title":null,"scale":{"domain":[3,33],"reverse":true,"nice":false,"zero":false}},"x":{"datum":0},"x2":{"datum":21},"strokeDash":{"field":"k","type":"nominal","scale":{"domain":["dash","solid"],"range":[[5,3],[1,0]]}}}},
   {"mark":{"type":"area","orient":"horizontal"},"encoding":{"y":{"field":"d","type":"quantitative","title":null},"x":{"field":"e","type":"quantitative","title":null,"scale":{"domain":[0,10],"nice":false,"zero":false},"axis":{"values":[0,5,10],"labels":false}}}},
   {"mark":{"type":"area","orient":"horizontal","fill":"#e98536"},"encoding":{"y":{"field":"d","type":"quantitative","title":null},"x":{"field":"v","type":"quantitative","title":null}}},
   {"mark":{"type":"line","stroke":"#ef8a3a"},"encoding":{"y":{"field":"d","type":"quantitative","title":null},"x":{"field":"e","type":"quantitative","title":null},"order":{"field":"d","type":"quantitative"}}},
   {"data":{"name":"taxa"},"transform":[{"filter":"datum.t=='Lle'"}],"mark":{"type":"text","fill":"#a31c1c"},"encoding":{"x":{"datum":0},"y":{"datum":2.2},"text":{"field":"name"}}},
   {"data":{"name":"zones"},"transform":[{"filter":"datum.k=='solid'"}],"mark":{"type":"rule","stroke":"#333","strokeWidth":1.2},"encoding":{"x":{"datum":0},"y":{"datum":3},"y2":{"datum":33}}}]},
 {"width":11,"height":408,"data":{"name":"Dde"},"layer":[
   {"data":{"name":"zones"},"mark":{"type":"rule"},"encoding":{"y":{"field":"d","type":"quantitative","title":null,"scale":{"domain":[3,33],"reverse":true,"nice":false,"zero":false}},"x":{"datum":0},"x2":{"datum":21},"strokeDash":{"field":"k","type":"nominal","scale":{"domain":["dash","solid"],"range":[[5,3],[1,0]]}}}},
   {"mark":{"type":"area","orient":"horizontal"},"encoding":{"y":{"field":"d","type":"quantitative","title":null},"x":{"field":"e","type":"quantitative","title":null,"scale":{"domain":[0,10],"nice":false,"zero":false},"axis":{"values":[0,5,10],"labels":false}}}},
   {"mark":{"type":"area","orient":"horizontal","fill":"#e98536"},"encoding":{"y":{"field":"d","type":"quantitative","title":null},"x":{"field":"v","type":"quantitative","title":null}}},
   {"mark":{"type":"line","stroke":"#ef8a3a"},"encoding":{"y":{"field":"d","type":"quantitative","title":null},"x":{"field":"e","type":"quantitative","title":null},"order":{"field":"d","type":"quantitative"}}},
   {"data":{"name":"taxa"},"transform":[{"filter":"datum.t=='Dde'"}],"mark":{"type":"text","fill":"#a31c1c"},"encoding":{"x":{"datum":0},"y":{"datum":2.2},"text":{"field":"name"}}},
   {"data":{"name":"zones"},"transform":[{"filter":"datum.k=='solid'"}],"mark":{"type":"rule","stroke":"#333","strokeWidth":1.2},"encoding":{"x":{"datum":0},"y":{"datum":3},"y2":{"datum":33}}}]},
 {"width":1,"height":408,"data":{"name":"zonelab"},"mark":{"type":"text","fontSize":22,"angle":0,"align":"left","baseline":"middle","fontStyle":"normal","dx":18,"fill":"#111"},"encoding":{"y":{"field":"d","type":"quantitative","title":null,"scale":{"domain":[3,33],"reverse":true,"nice":false,"zero":false}},"x":{"datum":0,"scale":{"domain":[0,1]},"axis":null},"text":{"field":"z"}}}
]
}
